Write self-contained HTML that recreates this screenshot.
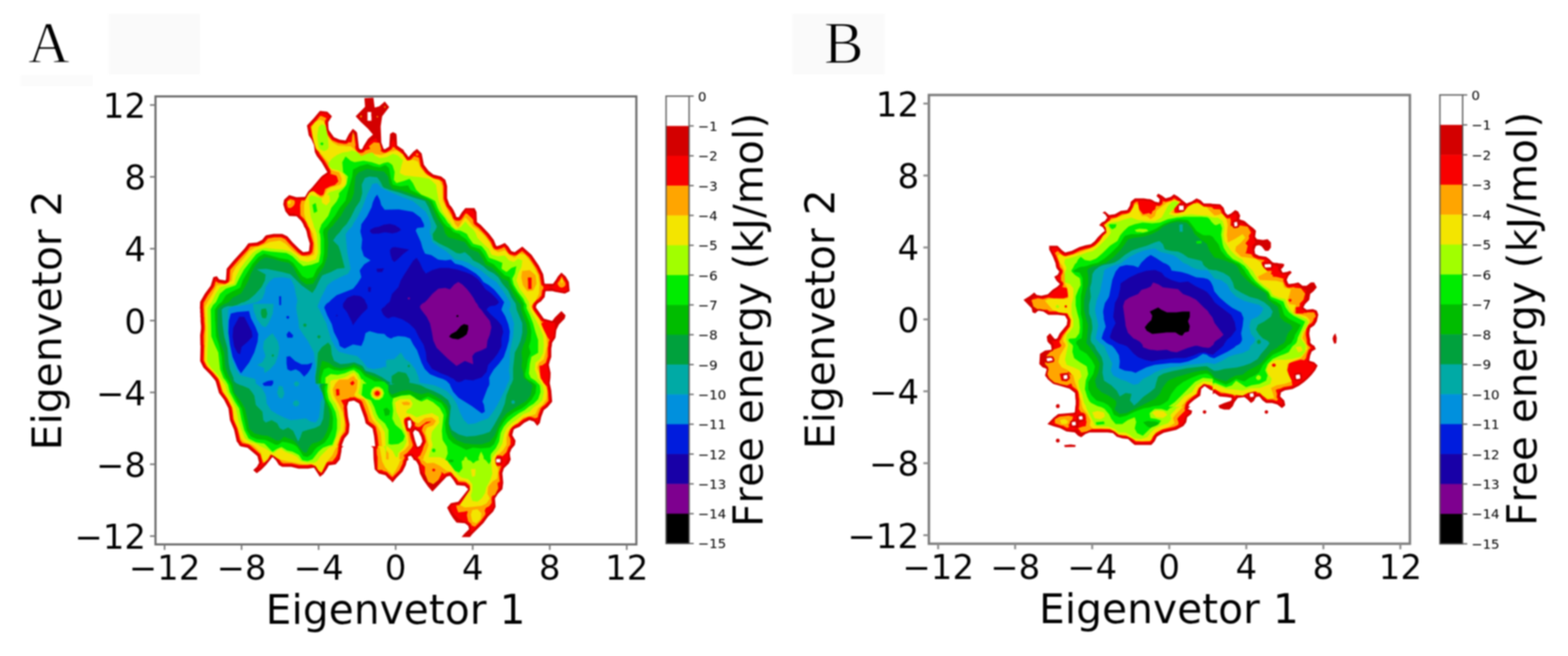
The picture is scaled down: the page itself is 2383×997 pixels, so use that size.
<!DOCTYPE html>
<html lang="en">
<head>
<meta charset="utf-8">
<title>Free energy landscape</title>
<style>
html,body{margin:0;padding:0;background:#fff;}
body{width:2383px;height:997px;overflow:hidden;}
svg{display:block;}
svg text{font-family:"DejaVu Sans","Liberation Sans",sans-serif;fill:#000;font-kerning:none;}
svg text.serif{font-family:"Liberation Serif","DejaVu Serif",serif;}
</style>
</head>
<body>
<svg width="2383" height="997" viewBox="0 0 2383 997">
<defs><filter id="soft" x="-1%" y="-1%" width="102%" height="102%" color-interpolation-filters="sRGB"><feGaussianBlur stdDeviation="1.0"/></filter></defs>
<rect width="2383" height="997" fill="#fff"/>
<g filter="url(#soft)">
<rect x="165.5" y="21" width="138.8" height="92.3" fill="#fafafa"/>
<rect x="31.5" y="113.7" width="109.5" height="17" fill="#fbfbfb"/>
<rect x="1204.5" y="21" width="140" height="92.3" fill="#fafafa"/>
<text class="serif" x="42.6" y="93.8" font-size="88" stroke="#fff" stroke-width="1.4" stroke-linejoin="round">A</text>
<text class="serif" x="1252.3" y="96.0" font-size="90" stroke="#fff" stroke-width="1.4" stroke-linejoin="round">B</text>
<g>
<rect x="236.3" y="146.5" width="730.8" height="680.9" fill="#fff"/>
<path fill="#d30000" fill-rule="evenodd" d="M486.2,168.5L476.8,179.8L466.5,190.8L469.2,205.8L473.2,211.5L477.2,220.8L478.5,231.2L481.5,237.2L488.8,246.8L497.5,261.8L490.2,266.8L487.5,269.2L474.5,284.8L468.2,291.2L463.5,299.2L450.5,299.8L439.5,296.5L431.8,303.5L430.5,310.5L433.8,321.2L439.5,328.2L450.8,328.8L457.5,335.5L460.5,340.2L462.5,345.2L463.8,346.8L465.8,351.5L467.5,359.5L470.8,370.2L469.5,381.5L468.2,382.2L460.8,383.2L455.2,378.8L444.5,368.2L436.8,359.2L429.5,355.8L428.2,355.5L415.8,355.5L404.8,357.5L403.2,358.5L398.5,364.5L390.5,368.5L377.5,369.8L371.8,377.5L354.5,396.5L344.5,408.5L343.5,423.8L342.8,426.2L333.2,424.8L329.5,419.8L324.2,421.2L320.2,434.2L311.2,446.5L304.2,458.8L303.8,469.2L304.2,469.5L304.2,475.8L304.5,476.2L304.5,482.2L304.8,482.5L304.8,488.5L305.5,495.2L305.5,499.5L304.2,509.5L304.5,524.8L304.8,525.2L304.2,548.8L309.2,558.8L318.8,568.5L326.2,577.2L327.8,579.8L332.8,597.2L340.5,607.5L347.2,620.8L349.5,638.8L355.8,653.2L359.8,671.2L361.2,672.5L364.2,677.5L366.2,678.5L376.2,680.5L391.2,693.2L393.8,703.2L390.5,709.2L384.8,714.5L390.2,719.2L396.8,714.2L404.5,706.5L414.2,694.5L419.5,699.8L423.8,706.8L428.8,709.5L442.5,709.5L453.8,712.2L468.2,712.2L477.2,710.8L486.2,724.8L491.5,720.5L496.5,713.2L499.8,707.2L510.2,705.8L516.5,698.2L518.8,686.2L519.2,680.8L521.8,678.5L522.8,678.2L519.8,678.2L519.5,677.8L519.8,675.8L523.5,666.2L529.2,659.5L530.2,656.8L531.2,645.2L528.8,632.8L527.5,617.8L529.5,611.2L530.2,610.2L537.8,608.8L545.8,613.2L553.8,635.2L555.8,643.5L566.2,651.2L568.5,662.8L570.2,677.8L569.8,678.2L563.8,678.2L567.2,680.8L567.8,697.5L569.5,713.5L575.8,719.8L585.8,722.2L589.5,726.5L594.2,730.5L596.5,733.5L602.2,726.5L611.8,716.8L616.8,706.8L618.2,700.8L620.8,698.5L621.8,698.2L620.2,697.8L620.2,693.8L624.5,692.5L628.5,697.8L627.5,698.2L632.2,700.5L634.5,704.2L636.2,707.8L638.2,719.5L643.2,729.2L650.5,739.5L657.2,747.2L678.8,724.5L683.5,723.2L684.5,723.8L689.2,729.8L693.8,737.2L706.5,738.5L711.5,743.5L696.5,762.5L685.2,764.8L679.5,771.5L684.2,780.8L688.5,787.5L693.8,794.2L706.5,795.2L710.8,798.5L711.8,799.8L712.8,804.2L705.2,811.8L701.5,816.2L714.2,816.2L717.8,811.8L734.8,794.8L741.5,785.5L749.5,777.5L753.2,770.2L752.2,757.5L756.8,750.2L763.5,743.5L764.8,733.5L763.5,719.2L765.8,711.8L773.5,704.2L776.2,698.2L775.2,693.2L774.8,688.5L777.2,682.5L782.5,676.2L783.5,669.8L778.5,661.2L780.8,652.8L783.2,651.2L789.8,648.5L796.5,642.8L804.8,638.5L811.5,640.8L816.5,647.2L820.5,642.8L822.5,633.8L826.5,623.2L832.2,618.8L839.2,610.5L837.8,593.5L835.5,582.2L836.5,574.2L836.8,566.8L834.2,554.5L835.2,550.2L837.8,542.5L837.8,529.8L838.8,524.5L838.8,522.2L839.5,520.2L844.2,513.2L845.5,501.5L849.5,493.2L858.2,484.2L859.5,479.2L853.2,472.8L843.5,482.2L839.2,487.8L826.5,484.2L814.8,467.8L814.5,466.2L815.8,462.8L819.2,459.8L821.8,458.5L827.8,451.5L828.8,443.8L829.5,442.5L839.8,442.5L843.2,443.5L858.5,446.2L865.8,442.5L864.5,428.5L859.8,420.2L853.2,414.2L847.8,420.2L845.2,424.8L840.5,431.2L828.2,431.2L827.5,430.2L825.5,416.8L818.8,403.5L807.8,387.2L793.8,374.8L782.2,383.2L777.2,381.8L772.5,374.5L767.2,369.2L759.8,372.8L754.8,374.2L753.5,372.2L750.5,364.8L743.5,355.5L730.5,341.8L724.8,337.5L724.2,322.2L721.2,316.2L707.2,316.2L701.8,322.8L697.2,330.2L693.8,329.8L693.2,329.2L692.5,326.2L689.2,319.2L686.2,314.5L683.2,311.2L679.5,301.2L679.5,282.8L676.8,273.2L670.5,268.2L658.5,265.2L651.2,259.5L644.2,250.2L640.8,233.2L633.8,226.2L628.2,230.5L620.8,238.8L618.5,235.2L614.5,230.5L613.2,227.8L603.5,221.2L602.8,206.5L602.2,203.2L597.2,200.8L592.8,203.5L591.5,222.8L585.5,226.5L583.8,226.8L582.8,225.8L579.5,216.5L578.5,192.2L580.8,176.8L591.5,162.8L584.8,154.2L576.5,161.5L569.8,163.5L569.2,162.2L567.5,148.5L553.8,149.2L554.8,162.2L540.5,176.8L548.5,185.5L559.2,195.5L566.8,204.5L559.2,211.2L552.8,221.5L550.5,226.2L548.8,227.2L546.8,226.5L545.5,224.8L542.8,202.2L541.8,200.2L536.2,195.8L530.2,203.8L525.2,213.5L516.2,212.2L507.5,208.5L499.8,197.8L499.2,194.2L498.8,185.8L504.5,176.8L497.5,169.8ZM754.2,697.8L754.5,697.5L760.2,697.5L760.5,697.8L760.5,702.5L760.2,702.8L754.5,702.8L754.2,702.5ZM630.8,653.2L636.2,656.2L640.2,664.2L641.8,670.8L638.8,677.2L634.8,679.2L633.8,678.2L630.8,669.5L627.8,657.8L628.2,656.5ZM623.8,638.5L624.5,639.8L625.5,646.2L623.2,651.5L620.2,649.8L619.5,639.5ZM558.8,170.2L563.8,170.2L564.2,170.5L564.2,176.8L564.5,177.2L564.5,183.2L564.2,183.5L558.8,183.5L558.5,183.2L558.5,170.5Z"/>
<path fill="#f90000" fill-rule="evenodd" d="M573.2,176.2L572.2,177.2L572.2,177.8L573.2,178.5L574.2,178.5L574.8,177.5L573.8,176.2ZM548.2,175.5L547.2,177.5L548.2,178.5L549.2,178.5L550.2,176.8L549.2,175.5ZM487.5,171.5L479.2,181.5L469.5,191.8L471.2,200.2L471.5,203.8L476.2,211.2L477.2,216.5L480.8,226.8L481.2,230.2L483.8,235.5L491.2,245.2L500.2,260.8L500.2,262.8L498.8,264.5L489.8,270.8L476.8,286.5L470.5,292.8L465.2,301.5L461.2,302.2L449.5,302.5L440.2,299.8L434.5,304.8L433.5,309.5L433.5,311.5L436.2,319.5L439.2,323.2L441.2,324.5L443.8,324.8L446.8,324.5L449.5,326.2L452.5,326.5L459.8,333.8L462.8,338.5L465.2,344.2L466.2,345.2L468.5,350.5L470.2,358.5L473.5,369.2L473.5,372.8L472.2,382.5L470.8,384.2L469.2,384.8L462.8,385.8L459.2,385.5L453.5,381.2L442.2,369.8L435.2,361.5L428.5,358.5L416.8,358.2L405.8,360.2L400.2,366.8L391.5,371.2L380.2,372.2L378.2,373.5L374.2,379.2L361.8,392.5L347.5,409.2L346.8,411.8L345.8,426.8L344.5,428.5L341.2,428.8L332.2,427.5L330.5,426.2L328.5,423.2L326.5,423.5L323.5,433.8L322.5,435.8L313.5,448.2L306.8,459.8L306.5,468.2L306.8,468.5L306.8,474.8L307.2,475.2L307.2,481.2L307.5,481.5L307.5,487.5L308.2,494.2L308.2,500.5L306.8,510.5L307.2,523.8L307.5,524.2L307.5,535.2L307.2,535.5L306.8,547.8L311.5,557.2L321.2,566.8L328.5,575.5L330.2,578.2L335.5,596.2L342.8,605.8L349.8,619.8L352.2,637.8L358.5,652.2L362.5,669.8L366.5,675.5L377.8,678.2L393.5,691.5L396.5,701.8L396.5,704.2L393.5,709.2L393.2,711.8L395.8,711.2L402.2,704.8L410.8,693.8L412.5,692.2L414.2,691.8L417.2,693.5L421.8,698.2L426.5,705.2L429.8,706.8L443.5,706.8L454.8,709.5L467.2,709.5L475.2,708.2L478.2,708.2L479.8,709.5L486.2,719.8L487.2,720.5L489.2,718.8L494.2,711.5L497.2,705.8L498.2,704.8L500.2,704.2L508.5,703.2L513.5,697.5L514.2,696.2L516.5,682.8L517.2,674.8L521.2,664.5L526.8,657.8L527.5,655.8L527.5,652.8L528.5,646.2L526.2,633.8L524.8,620.8L524.8,616.8L527.5,608.5L530.2,607.2L536.2,606.2L538.8,606.2L546.8,610.2L548.2,611.5L555.5,631.2L558.2,641.5L567.2,648.2L568.8,650.2L571.2,661.8L572.8,676.8L572.5,679.5L571.5,680.5L569.8,680.8L570.5,696.5L570.8,696.8L570.8,701.2L571.8,707.8L571.8,710.8L572.2,712.2L577.2,717.2L587.5,719.8L596.5,729.2L599.8,724.8L609.5,715.2L614.2,705.8L615.2,700.5L617.5,697.5L617.8,692.2L618.8,691.2L623.2,689.8L625.5,689.8L627.2,690.5L628.2,691.5L628.5,693.2L630.5,695.5L630.8,696.5L633.8,698.2L635.2,699.5L638.5,705.8L639.8,713.5L641.5,717.5L647.8,724.5L650.8,732.2L658.5,735.8L666.2,729.5L672.5,726.8L677.2,722.2L682.5,720.5L684.8,720.5L686.8,722.2L690.5,726.8L695.5,734.5L707.5,735.8L713.8,741.8L714.2,742.5L713.8,745.2L698.2,764.8L696.5,765.5L686.5,767.5L684.2,771.5L687.8,778.8L690.5,782.2L697.5,789.2L699.8,789.8L704.5,792.2L708.2,792.8L713.8,797.5L715.5,802.8L715.5,805.2L713.8,809.5L718.8,806.8L732.5,793.2L739.2,783.8L747.2,775.5L750.5,769.2L749.8,764.8L749.5,756.5L754.5,748.8L755.2,746.8L759.8,742.2L761.5,738.2L762.2,731.8L760.8,721.8L760.8,718.2L763.5,710.2L767.8,705.8L769.5,701.8L772.5,696.5L772.5,691.5L772.2,691.2L772.5,686.5L774.8,680.8L779.2,675.8L780.2,673.8L780.5,670.2L775.8,662.2L775.8,659.8L778.5,651.2L780.2,649.5L788.2,646.2L795.8,639.8L803.8,635.8L806.5,635.8L813.2,638.5L816.8,642.5L817.8,641.5L819.8,632.8L824.2,621.5L830.5,616.5L836.2,609.8L835.2,594.5L832.8,583.2L832.8,579.2L833.5,576.8L834.2,567.8L831.5,555.5L831.5,552.5L835.2,541.5L835.2,528.8L836.2,523.5L836.2,521.2L837.2,518.5L841.5,512.2L842.8,500.5L843.8,498.8L843.5,496.2L843.8,491.5L843.2,491.2L843.2,490.5L841.2,490.2L837.8,490.5L824.8,486.5L812.8,470.2L812.2,468.8L811.8,465.2L813.5,461.2L817.5,457.5L820.2,456.2L825.2,450.2L826.2,442.8L826.8,441.2L827.8,440.2L832.5,439.8L836.8,437.8L838.2,437.8L845.8,441.2L858.2,443.2L861.5,441.5L862.8,440.2L861.8,429.5L857.5,421.8L853.5,418.2L850.2,421.8L846.2,428.5L842.2,433.5L837.2,435.8L832.5,433.8L826.5,433.5L824.8,431.2L822.8,417.8L817.5,406.8L805.5,388.8L793.8,378.5L790.8,380.2L784.2,385.5L781.2,385.8L775.5,384.2L770.2,376.2L766.5,372.5L759.8,375.8L755.8,376.8L753.2,376.5L751.8,375.2L748.2,366.5L741.2,357.2L728.8,344.2L722.5,339.2L721.8,334.5L721.8,327.5L721.2,326.2L720.8,323.5L718.2,319.8L713.2,318.8L708.8,318.8L704.2,324.5L698.8,332.5L693.5,332.8L692.2,332.2L690.5,330.2L689.8,327.2L686.8,320.8L683.8,316.2L680.8,312.8L676.8,302.2L676.8,283.8L674.5,274.8L668.5,270.5L659.2,268.5L656.8,267.5L648.8,261.2L641.5,251.2L638.5,235.2L633.8,230.5L632.5,230.8L629.8,232.8L622.5,241.2L621.8,241.5L619.2,241.2L612.2,232.2L611.5,230.5L601.2,222.8L600.5,216.8L597.8,211.2L596.8,212.2L595.8,215.2L594.5,217.2L594.5,221.2L593.8,224.5L592.8,225.5L586.5,229.2L582.8,229.5L580.5,227.5L578.8,222.5L578.2,221.8L576.8,217.2L574.5,216.5L571.8,209.8L563.2,214.2L556.2,221.5L553.8,226.2L551.8,228.8L549.8,229.8L547.2,229.8L545.2,228.8L542.8,225.8L541.5,213.5L538.5,205.5L536.2,200.8L535.8,204.5L530.5,209.5L527.8,214.8L526.2,216.2L523.2,216.2L515.2,214.8L505.8,210.8L496.8,198.2L496.2,184.8L500.8,177.2L496.2,172.5ZM753.8,694.8L761.2,694.8L762.8,696.2L763.5,700.8L763.2,703.5L761.8,705.2L761.2,705.5L753.8,705.5L753.5,705.2L752.5,700.5L752.5,697.5ZM629.8,650.5L631.8,650.5L637.2,653.2L638.5,654.5L642.8,663.2L644.5,669.8L644.5,672.2L641.2,678.8L639.8,680.2L634.2,682.5L631.8,680.5L627.2,667.2L625.2,658.8L625.2,656.2L627.8,652.2ZM618.8,636.5L624.2,635.8L627.2,639.2L628.2,644.2L628.2,647.2L625.8,652.8L624.2,654.2L622.2,654.2L618.8,652.5L617.5,650.8L616.8,638.5ZM583.8,161.8L583.8,163.5L585.5,163.8L586.2,162.8L585.5,161.5Z"/>
<path fill="#ffa500" fill-rule="evenodd" d="M853.8,419.8L851.5,424.8L847.5,430.5L847.5,431.8L849.2,434.8L851.2,436.5L853.8,437.2L857.5,435.8L859.5,433.2L859.2,429.8L855.8,424.5ZM447.5,304.5L440.8,302.5L436.8,306.2L436.2,311.5L437.8,315.8L440.2,316.2L442.8,315.5L446.2,312.8L447.5,310.5L448.2,307.8ZM632.5,233.8L632.2,234.5L632.5,236.2L633.2,236.5L635.5,236.2L635.8,234.5L635.2,233.5L633.5,233.2ZM573.2,176.2L572.2,177.2L572.2,177.8L573.2,178.5L574.2,178.5L574.8,177.5L573.8,176.2ZM486.5,176.2L481.5,182.5L472.2,192.5L474.2,203.8L474.8,204.5L474.8,206.5L477.2,216.5L480.5,226.5L484.5,230.5L486.2,234.5L493.5,244.2L501.2,257.2L502.8,261.2L502.2,264.2L510.8,266.8L512.2,268.8L514.2,275.8L508.8,281.2L501.8,283.2L494.2,287.2L492.2,294.2L491.2,296.2L487.5,297.5L481.5,294.2L476.5,290.2L475.5,291.2L474.5,290.8L470.5,292.8L467.2,297.8L463.8,304.5L457.8,304.8L456.2,311.5L456.5,326.2L456.8,327.5L462.2,332.8L465.2,337.5L467.5,343.2L469.5,346.2L471.2,350.5L472.5,357.5L476.2,369.5L475.5,378.2L474.5,383.5L471.8,386.5L470.2,387.2L462.5,388.5L458.8,388.2L452.5,383.5L439.8,370.8L433.5,363.5L427.5,360.8L416.5,360.8L407.2,362.5L401.2,369.2L392.5,373.5L380.5,374.8L376.5,380.2L364.2,393.5L349.8,410.2L348.8,424.5L347.8,428.5L346.5,429.8L343.2,431.5L341.5,431.5L331.2,429.8L328.8,427.8L327.8,427.8L325.8,434.8L324.8,436.8L315.8,449.2L309.5,460.2L309.2,468.5L309.5,468.8L309.5,475.2L309.8,475.5L309.8,481.5L310.2,481.8L310.2,487.8L310.8,494.5L310.8,500.2L309.5,510.2L309.8,524.2L310.2,524.5L309.5,547.5L313.8,556.2L323.5,565.8L330.8,574.5L332.5,577.2L337.8,595.2L345.5,605.5L352.2,618.8L353.5,626.5L354.5,636.5L360.8,651.2L364.8,668.8L368.2,673.5L377.2,675.2L379.8,676.5L395.8,690.5L399.2,702.2L398.8,704.8L400.8,702.5L401.5,703.2L407.5,698.2L411.5,690.5L416.2,692.8L424.5,698.2L427.2,702.2L430.2,704.2L443.2,704.2L454.5,706.8L467.5,706.8L472.8,705.8L474.8,706.2L479.8,708.2L484.5,715.5L488.5,718.5L495.8,703.8L497.8,702.2L500.5,701.5L505.2,701.2L510.5,694.5L512.8,689.2L513.8,683.2L513.8,680.2L514.5,678.2L514.2,676.5L516.5,669.2L518.8,663.5L524.8,656.2L525.8,645.8L523.2,630.8L522.8,624.2L522.2,620.5L522.5,616.2L518.2,608.2L529.2,605.8L533.2,603.5L533.5,604.2L538.5,603.5L547.8,607.8L550.5,610.5L557.8,630.2L560.5,640.2L568.2,645.8L570.8,648.5L571.5,650.2L573.8,662.2L575.5,677.2L575.2,678.2L573.5,678.2L574.2,678.5L573.8,681.5L572.5,682.8L572.8,690.5L573.8,694.8L573.8,713.8L574.2,714.2L580.8,714.2L582.2,715.8L587.8,717.2L593.8,723.2L596.5,725.2L607.2,714.2L611.8,704.8L612.8,699.5L614.8,696.8L614.8,693.5L613.5,692.8L613.2,692.2L618.8,688.5L625.5,680.8L627.2,677.8L627.5,675.8L624.2,665.8L622.5,658.5L622.5,656.8L617.8,654.8L616.8,652.8L614.2,642.5L614.2,638.8L614.8,636.8L617.8,634.2L622.5,633.5L627.8,640.2L630.2,641.5L630.8,644.5L630.5,647.5L635.5,649.2L638.5,648.5L648.2,641.2L654.5,640.5L654.8,640.8L654.2,641.5L645.5,645.2L643.2,647.8L641.2,653.2L641.2,654.5L645.2,662.2L647.2,670.2L647.2,671.8L643.8,678.8L642.2,684.2L638.5,692.5L636.5,693.5L634.8,695.8L637.5,698.5L640.8,705.5L641.5,705.5L645.8,709.5L645.8,719.8L650.8,732.2L658.5,735.8L666.2,729.5L671.2,719.5L670.5,717.5L670.8,717.2L675.5,720.5L677.5,719.2L682.8,717.8L684.5,717.8L687.2,719.2L689.5,722.5L693.8,727.2L696.8,732.2L705.5,732.8L708.5,733.5L714.2,738.8L714.2,744.8L703.2,761.5L698.5,767.5L693.2,768.5L693.2,769.2L694.2,770.8L693.8,771.5L696.5,778.8L705.2,777.8L709.5,776.8L710.8,777.2L709.5,783.2L711.5,792.2L716.2,796.5L716.8,798.8L721.8,800.5L730.2,792.2L737.5,782.2L737.8,780.2L737.2,777.5L736.5,776.8L737.8,773.2L738.8,771.8L742.8,769.8L744.5,768.2L747.2,764.2L747.2,760.5L746.8,760.2L747.2,755.5L748.8,753.2L752.2,752.2L757.2,742.2L756.2,734.2L759.5,731.8L758.2,718.5L761.5,708.2L761.2,707.8L760.8,708.2L755.2,708.2L754.5,707.5L753.2,704.5L752.5,697.5L755.2,692.2L760.8,692.2L763.5,693.5L769.8,687.2L772.5,679.8L775.8,675.8L775.8,667.2L773.2,661.8L773.2,660.2L775.5,652.2L777.8,649.2L780.2,647.2L782.8,645.5L787.2,643.8L794.8,637.5L802.8,633.5L806.2,633.2L813.2,635.8L816.5,634.8L817.2,634.2L818.2,629.8L821.8,620.5L824.5,617.8L827.8,615.5L833.5,609.2L832.8,597.2L831.2,586.8L829.2,586.2L829.2,585.5L825.8,581.8L822.2,575.5L820.8,569.5L819.8,556.2L821.8,555.5L823.8,555.5L829.5,551.2L832.5,541.5L832.5,529.2L833.5,523.8L833.5,521.5L834.2,518.8L835.5,516.8L832.2,512.8L826.2,500.8L822.5,492.2L823.2,491.2L826.2,489.5L823.8,488.8L821.5,486.5L810.5,471.2L809.2,466.8L809.5,464.2L810.8,460.8L814.8,456.5L816.5,455.2L817.8,454.8L822.8,449.2L823.8,441.8L824.5,440.2L825.8,438.8L825.8,435.8L823.2,433.5L822.5,432.2L820.2,418.2L815.2,407.8L804.2,391.2L793.5,381.5L785.2,387.8L781.5,388.5L774.5,386.5L772.2,384.2L767.8,377.2L766.2,375.5L761.8,377.8L755.5,379.5L752.2,378.8L749.5,376.2L745.8,367.5L738.8,358.2L727.8,346.5L722.8,342.8L720.2,340.2L719.5,338.2L719.2,334.5L717.2,331.8L709.8,324.8L707.5,324.5L702.2,332.5L699.8,334.8L697.8,335.5L693.8,335.5L691.2,334.5L688.5,331.8L686.8,326.5L683.5,320.2L678.5,313.8L674.2,301.8L674.2,283.5L672.2,276.2L667.5,272.8L659.5,271.2L655.2,269.2L649.5,265.2L646.5,262.2L639.2,252.2L636.8,239.8L629.5,237.2L623.5,243.5L618.8,243.8L612.8,235.8L612.5,234.5L610.2,233.2L608.2,230.8L601.2,226.2L598.8,223.5L596.5,223.8L596.2,225.5L593.8,227.8L587.5,231.5L584.8,232.2L581.8,231.8L579.2,229.5L577.8,229.2L579.5,227.5L576.8,217.2L568.2,216.2L560.8,222.2L562.5,226.2L562.2,226.5L555.2,228.5L552.8,231.2L549.5,232.5L546.2,232.2L544.2,231.2L541.5,228.5L540.5,226.8L539.8,223.8L539.8,221.8L540.5,221.2L539.2,212.2L538.5,205.5L536.2,200.8L534.5,214.8L533.8,216.5L529.8,216.2L527.2,218.5L523.5,218.8L514.2,217.2L504.8,213.2L502.5,210.8L497.5,203.8L495.5,195.2L495.2,191.8L493.5,187.5L493.8,183.8L496.2,179.8L489.2,176.5ZM657.8,712.5L659.8,712.2L661.2,713.2L661.5,714.8L660.5,716.2L658.5,716.5L657.2,715.5L656.8,713.8ZM572.2,594.2L574.5,594.2L576.5,595.8L577.2,597.5L576.5,600.2L574.5,601.5L572.2,601.5L570.8,600.8L569.8,599.5L569.5,598.2L569.8,596.5ZM510.8,591.2L515.2,591.2L515.5,591.5L515.8,598.2L516.2,598.5L515.8,600.8L512.5,601.5L511.2,601.2L510.8,594.2L510.5,593.8ZM536.5,578.5L539.2,582.8L537.8,583.2L536.8,585.2L534.5,585.5L533.2,584.5L532.8,583.2L532.2,582.8L532.5,581.5ZM802.5,421.8L807.5,421.8L807.8,422.2L807.8,438.8L807.5,439.2L803.2,439.2L802.8,438.8L802.5,426.5L802.2,426.2L802.2,422.2ZM548.2,175.5L547.2,177.5L548.2,178.5L549.2,178.5L550.2,176.8L549.2,175.5ZM583.8,161.8L583.8,163.5L585.5,163.8L586.2,162.8L585.5,161.5Z"/>
<path fill="#f3e500" fill-rule="evenodd" d="M725.5,773.8L717.8,775.2L715.5,782.2L717.8,792.8L723.8,795.2L730.5,788.8L731.8,780.2ZM853.8,422.2L852.2,426.8L853.8,431.2L855.5,427.5ZM438.5,304.8L437.2,305.8L436.5,307.8L437.2,309.2L438.5,310.2L440.2,310.2L441.5,309.2L442.2,307.2L440.8,305.2ZM486.2,181.8L478.8,185.5L473.5,193.2L474.8,206.5L477.2,216.5L480.2,225.8L491.2,237.5L491.8,238.8L499.5,247.8L500.2,254.2L502.2,256.5L505.2,259.2L514.8,261.8L515.8,262.8L519.5,272.2L518.2,278.8L517.2,280.2L510.5,282.8L504.5,284.2L497.8,287.5L491.5,299.2L487.5,300.2L483.8,297.8L479.2,292.5L474.5,290.8L470.5,292.8L467.2,297.8L464.2,303.5L462.2,311.5L462.2,324.5L464.5,333.8L468.8,341.5L469.5,344.8L471.5,347.5L471.5,348.2L475.5,355.2L478.5,373.2L477.2,386.5L475.8,387.5L467.5,390.8L454.5,388.2L445.2,381.2L433.8,370.2L425.5,365.5L409.8,367.8L399.2,372.8L386.8,376.5L378.8,381.5L369.2,393.8L358.2,406.2L353.5,415.5L352.2,426.8L341.2,432.5L329.5,433.5L322.5,447.5L312.2,464.5L311.2,470.2L311.5,470.5L312.5,494.8L312.8,495.2L312.8,502.8L312.5,503.2L312.2,520.5L311.8,520.8L311.8,527.2L311.5,527.5L311.2,548.8L315.5,557.5L325.5,567.8L331.8,575.2L334.5,580.8L339.2,595.8L346.8,607.5L353.5,620.8L355.8,638.8L362.2,653.2L366.2,666.2L369.2,670.2L372.2,672.5L381.8,675.2L382.8,676.2L384.5,676.8L388.5,680.2L396.5,688.2L398.5,697.2L401.5,703.2L411.5,690.5L416.2,692.8L423.5,697.8L429.2,699.5L450.5,703.5L460.2,705.8L473.8,705.8L479.8,708.2L484.5,715.5L488.5,718.5L497.2,701.2L505.2,691.8L510.5,680.8L514.5,678.2L512.2,678.2L511.8,677.8L512.2,675.8L516.5,664.8L522.5,653.5L523.5,640.2L521.2,627.8L515.2,614.8L510.8,607.8L507.2,600.5L505.8,591.2L509.8,582.8L515.5,576.8L528.8,576.8L532.8,573.5L537.8,571.2L540.8,576.5L543.2,577.2L543.2,582.8L542.2,591.8L538.2,600.5L543.5,604.2L552.5,606.2L553.5,606.8L558.8,617.5L562.2,628.5L565.5,637.2L567.2,639.8L572.8,646.2L578.5,657.2L580.5,677.8L580.2,678.2L573.5,678.2L577.2,680.8L580.8,701.2L585.5,710.5L589.2,714.5L589.2,715.2L593.2,718.2L595.5,721.2L596.5,721.8L601.8,714.2L606.8,704.2L607.5,700.8L611.5,698.2L607.2,698.2L606.8,697.8L607.5,688.8L615.2,683.8L621.5,676.2L620.2,663.2L613.8,642.5L613.8,635.8L621.8,632.8L628.2,640.5L635.8,643.2L645.8,635.5L656.2,634.2L662.5,639.5L658.5,646.2L649.2,649.8L647.8,652.2L646.2,657.5L648.5,664.5L651.2,676.5L647.5,686.8L643.8,694.8L643.8,697.5L643.2,698.2L640.2,698.2L644.8,700.5L648.5,704.2L658.8,703.2L668.2,707.8L678.2,715.2L685.2,716.8L689.5,722.5L696.5,729.5L706.5,730.8L714.2,735.8L714.2,744.8L698.8,767.5L706.2,771.2L716.8,770.5L731.8,768.8L739.2,765.2L744.5,757.5L740.8,750.2L741.8,739.8L748.5,731.8L755.8,727.2L757.2,712.8L753.2,704.5L752.5,697.5L754.8,692.5L756.8,690.5L759.5,689.2L765.2,683.5L769.8,676.2L769.8,665.5L772.2,656.2L778.8,648.2L787.2,642.5L795.2,634.5L805.5,632.2L813.8,629.5L817.8,620.8L824.5,615.2L830.5,606.8L831.8,593.8L829.2,585.5L825.8,581.8L824.2,578.5L820.8,574.2L820.2,568.5L816.5,558.5L819.2,551.2L826.2,546.5L826.8,545.5L831.8,524.2L830.5,510.5L824.2,497.2L819.8,484.8L814.2,477.2L807.5,466.5L807.5,465.2L808.5,463.2L813.8,457.5L819.2,446.5L820.2,432.5L817.8,418.5L811.2,405.2L806.2,397.2L797.5,386.8L789.8,385.5L782.2,391.8L774.8,388.2L767.2,380.5L757.2,383.2L749.8,379.5L744.5,369.2L737.5,359.8L731.5,353.5L727.8,350.8L726.2,348.8L722.5,346.2L719.2,344.5L712.5,335.5L707.2,330.2L701.2,338.2L697.5,344.2L695.8,345.2L695.2,344.8L691.5,340.2L686.2,329.5L681.5,322.8L677.8,314.2L672.8,305.5L671.8,282.8L668.2,274.5L659.2,271.2L646.8,264.5L639.2,255.5L635.2,245.5L627.8,242.8L618.8,244.2L612.8,235.8L612.2,234.2L602.5,228.5L590.5,231.5L579.8,235.5L570.5,234.5L564.2,231.8L557.8,233.8L548.8,237.5L538.2,226.5L532.8,222.2L524.5,222.2L524.2,221.8L513.8,221.2L505.5,216.5L498.5,207.8L496.2,198.5L494.8,190.5L492.5,184.5ZM587.2,684.2L590.5,688.8L590.8,697.8L590.5,698.2L587.2,698.2L586.8,697.8L586.8,684.5ZM623.5,612.8L621.8,615.8L613.2,615.8L610.2,611.8L611.5,611.2L618.5,610.2L623.2,612.2ZM571.5,592.2L575.2,592.2L577.2,593.5L578.5,595.2L579.2,597.5L578.5,600.5L575.2,603.8L571.5,603.8L568.2,601.2L567.2,597.5L568.2,594.5ZM805.2,410.5L814.2,418.5L815.5,431.2L810.2,441.5L801.5,442.8L794.8,433.5L792.2,421.8L793.2,413.5L793.8,411.8Z"/>
<path fill="#a1ff00" fill-rule="evenodd" d="M520.8,231.8L512.2,235.5L504.8,240.8L500.2,246.2L499.5,249.2L499.8,252.5L503.5,255.8L505.2,256.8L513.2,258.8L519.2,261.8L524.5,267.2L526.2,276.2L523.8,282.5L516.5,287.2L502.5,291.5L500.2,292.5L496.8,296.5L497.5,296.2L500.5,296.5L501.5,306.2L496.2,312.2L489.5,308.5L488.5,300.8L485.5,300.8L478.5,298.2L472.5,296.8L469.2,300.8L470.2,305.5L470.5,313.2L472.2,328.5L476.5,341.5L477.2,345.2L479.8,350.2L479.8,351.5L481.2,354.8L482.2,362.8L483.5,383.5L480.2,393.8L479.2,394.8L467.5,398.2L456.8,395.8L449.2,387.8L441.2,382.2L429.8,379.2L418.8,378.5L403.2,376.8L391.2,379.2L384.2,384.2L373.2,397.2L364.5,408.8L358.5,420.8L356.2,430.5L354.8,431.5L334.5,436.2L327.8,446.5L321.8,459.2L318.2,463.5L315.5,468.8L315.8,469.2L315.5,469.8L315.5,479.2L315.8,479.5L315.8,491.8L316.2,492.2L316.2,520.5L315.8,520.8L315.8,527.2L315.5,527.5L314.8,548.5L320.2,558.5L329.2,567.5L333.5,572.5L342.2,585.2L345.5,595.8L358.5,620.8L362.2,638.8L367.2,653.8L372.2,666.2L378.2,670.5L381.5,672.2L387.5,673.8L392.8,676.2L394.5,677.5L404.5,682.2L412.2,687.2L416.5,688.2L421.5,684.2L426.5,681.8L434.8,687.2L443.8,690.2L451.5,694.2L456.8,700.8L466.5,703.2L477.5,703.2L482.2,700.8L486.8,693.5L499.8,680.5L506.8,677.5L509.5,669.8L517.2,651.5L517.2,637.8L514.8,625.5L509.8,613.2L504.5,606.2L500.8,594.5L501.8,586.2L501.5,582.8L502.5,578.5L505.8,577.8L507.8,576.8L510.2,576.8L522.8,573.8L525.2,572.8L534.2,567.2L537.8,566.2L539.2,566.8L542.8,571.8L544.8,576.5L547.8,577.2L547.2,588.2L544.5,597.8L558.5,608.2L563.8,618.8L567.2,629.8L571.2,638.5L578.8,646.2L584.8,657.2L586.2,677.8L585.8,678.2L582.2,678.2L583.5,678.8L585.2,681.2L586.2,689.2L586.8,690.2L586.8,677.5L587.8,677.2L596.8,685.2L601.5,694.8L604.5,694.8L605.2,688.8L613.8,680.2L617.8,671.5L616.5,658.5L611.5,648.8L607.8,636.5L602.5,626.2L600.2,611.8L607.8,606.5L623.2,606.5L627.2,613.5L624.8,619.5L618.5,623.2L617.2,627.8L624.5,629.2L633.2,634.2L643.2,630.5L656.5,627.8L666.5,633.2L667.8,642.2L657.2,655.2L656.2,657.5L655.2,666.8L657.5,676.5L653.5,687.2L651.5,694.8L668.2,694.8L673.2,696.5L677.2,698.5L680.5,700.8L686.2,710.2L694.5,720.2L701.5,725.8L711.5,728.2L717.8,735.8L717.8,745.2L715.5,753.2L717.8,761.2L725.5,762.5L732.2,757.2L737.2,749.2L739.2,740.5L744.8,730.2L748.2,719.8L746.2,700.2L748.5,694.8L758.8,682.2L763.5,673.8L765.8,660.8L769.8,651.2L777.5,643.2L785.8,637.5L795.2,629.5L805.2,625.8L810.5,619.2L817.5,614.8L824.2,608.2L826.5,596.2L824.8,585.8L822.8,583.2L820.8,579.2L816.8,574.2L816.5,571.2L812.8,561.5L813.8,551.2L820.5,545.8L825.5,536.2L826.2,525.8L826.5,525.5L825.5,510.5L820.2,497.8L813.8,485.2L808.5,476.2L804.2,467.5L804.5,463.5L803.8,458.8L797.8,449.2L789.8,438.8L784.8,426.5L787.5,415.5L792.5,405.8L793.8,395.8L787.5,393.2L780.8,398.2L773.5,395.8L767.2,388.2L756.8,389.5L747.5,387.2L745.8,384.8L743.2,378.2L735.8,371.8L725.5,361.5L722.8,353.8L722.2,353.5L721.2,351.5L717.5,347.2L713.8,344.5L707.2,336.5L700.5,344.8L693.5,347.8L689.8,345.5L688.2,343.8L684.5,337.2L680.2,332.2L672.5,321.5L666.5,304.5L663.5,287.2L662.8,280.8L654.5,273.2L651.8,271.5L638.5,269.2L614.8,266.8L608.2,263.5L607.5,262.5L610.2,251.2L612.5,243.8L604.8,236.2L597.2,233.8L587.5,238.8L577.2,240.2L569.8,236.5L567.2,232.8L564.8,231.8L557.8,233.8L549.2,237.5L542.8,231.2L534.5,228.5L530.2,230.5ZM716.2,712.8L722.5,712.8L722.8,713.2L722.2,723.2L718.2,724.8L717.5,724.5L715.8,714.2ZM570.8,590.2L576.5,590.5L579.8,593.2L581.5,597.5L579.8,602.5L575.8,605.8L570.8,605.8L567.2,603.2L566.2,601.8L565.2,598.2L566.2,593.8L567.2,592.5ZM488.5,188.8L484.2,193.2L482.2,204.8L482.2,207.2L484.2,222.5L486.2,226.5L490.8,229.2L493.2,229.5L496.2,228.2L498.8,225.8L499.5,222.8L497.5,203.2L496.2,198.5L495.8,195.5L493.8,190.8Z"/>
<path fill="#00ec00" fill-rule="evenodd" d="M658.2,681.8L656.8,682.8L656.5,683.8L656.8,686.2L658.2,687.2L660.2,687.2L661.5,686.2L661.8,685.2L661.5,682.8L660.2,681.8ZM479.8,308.5L474.8,311.2L477.2,323.8L482.2,321.2ZM525.2,237.8L520.2,246.5L521.5,261.8L528.8,268.2L526.8,279.8L525.8,281.8L522.2,286.5L515.2,293.5L515.2,298.8L511.5,306.2L503.8,315.5L498.8,328.2L488.2,341.5L487.8,343.8L486.5,346.5L485.2,351.8L485.5,354.2L486.2,354.8L487.2,362.8L487.2,384.2L484.8,397.8L484.2,398.5L473.8,402.2L460.8,404.5L453.8,398.8L444.2,389.2L435.5,384.5L410.5,382.2L398.8,380.5L389.2,386.5L370.8,409.8L363.2,423.8L358.8,432.8L357.8,433.8L343.2,438.8L334.2,446.5L328.2,459.2L323.8,463.5L320.2,470.2L321.2,511.2L326.2,523.8L331.8,535.8L334.5,561.5L339.5,574.5L342.8,578.5L346.5,584.8L349.2,595.8L356.8,610.2L363.5,620.8L366.8,637.5L371.2,653.8L377.8,666.5L389.2,672.2L398.2,673.8L400.5,673.8L402.5,674.8L414.2,686.8L420.8,682.2L427.8,679.2L436.2,684.5L444.8,686.5L454.2,691.5L459.5,699.5L467.5,700.8L474.8,698.2L484.2,686.2L490.8,680.5L500.8,676.8L504.5,676.2L505.2,675.5L509.8,663.8L512.2,651.8L512.2,637.8L510.2,626.8L504.2,614.2L500.2,608.2L499.2,605.8L497.2,594.8L498.2,583.2L494.8,583.2L494.5,582.8L494.5,573.8L502.5,568.5L513.2,569.8L524.2,567.2L532.5,563.5L537.8,562.2L544.8,567.8L549.2,576.2L549.8,576.8L551.8,576.8L552.2,578.8L556.8,582.8L556.5,583.2L551.5,583.2L549.5,600.5L555.5,605.2L563.5,608.2L568.8,618.8L572.2,628.8L575.8,635.5L585.2,643.8L590.5,653.5L590.5,674.8L594.8,675.8L605.5,674.8L612.8,669.8L615.2,662.8L610.5,653.8L600.8,645.5L596.2,636.2L597.5,624.5L596.2,612.5L597.5,605.5L598.5,604.8L610.2,601.5L623.2,600.2L632.5,606.2L640.5,610.2L648.8,606.5L658.2,611.2L668.2,619.8L674.2,630.8L671.5,654.8L672.5,667.2L673.2,669.5L679.2,678.8L680.5,689.2L677.8,696.2L677.8,697.8L676.2,698.2L680.5,700.8L682.2,703.8L685.5,707.2L691.5,715.5L697.8,718.2L702.8,711.8L701.5,701.5L702.5,700.2L706.2,698.2L705.2,698.2L704.8,697.5L707.8,693.5L710.8,697.5L710.5,698.2L709.8,698.2L715.5,700.5L719.2,704.2L723.8,700.5L725.5,700.2L728.8,698.2L727.2,697.8L727.5,695.2L729.2,690.2L731.2,686.2L734.8,693.5L735.2,697.5L738.2,699.2L743.2,705.5L746.2,700.5L745.5,697.2L745.5,692.5L746.2,690.8L745.8,690.2L753.5,681.2L758.5,671.2L760.8,658.2L765.5,648.8L771.5,641.5L778.8,635.2L789.2,627.8L797.2,623.5L804.2,617.8L811.2,613.5L817.8,606.8L821.5,595.8L820.8,587.8L820.2,585.2L813.5,578.5L806.5,574.2L803.8,567.8L805.2,553.2L807.5,542.2L817.8,536.2L817.8,516.8L813.5,503.8L810.2,491.5L805.2,478.8L800.2,468.2L800.5,464.8L799.8,462.2L798.2,460.2L795.2,453.8L787.2,443.5L780.8,432.8L778.5,423.5L782.5,415.8L784.8,404.5L777.2,407.2L769.8,413.5L762.5,408.8L762.2,407.5L763.5,399.5L754.8,395.8L743.2,391.8L738.2,381.8L732.5,374.8L731.2,373.8L719.2,370.5L712.5,361.2L709.5,355.5L701.2,351.2L698.2,350.2L693.8,350.2L691.8,349.5L687.2,345.8L684.8,343.5L684.2,341.8L680.8,338.8L676.2,331.5L668.2,321.8L665.5,316.5L661.2,305.5L651.5,300.2L640.2,295.8L632.5,288.5L627.5,278.2L622.5,271.8L614.5,274.8L602.5,278.2L598.5,273.2L599.8,261.5L596.5,251.2L594.8,249.5L590.5,246.8L589.2,246.5L583.2,247.8L576.8,250.5L564.8,246.5L552.5,244.2L538.8,246.5L532.8,244.2ZM570.2,587.8L576.5,587.8L581.8,591.8L583.8,597.5L581.8,603.8L576.5,607.8L570.2,607.8L564.8,603.8L562.8,598.2L564.8,591.8ZM488.5,216.5L487.2,217.5L486.8,218.8L488.5,220.8L489.8,220.8L491.2,219.8L491.5,218.2L490.8,216.8Z"/>
<path fill="#00bc00" fill-rule="evenodd" d="M680.8,700.8L681.2,701.8L687.5,702.5L689.5,700.5L688.8,699.2L688.2,698.8L684.2,698.5L682.8,698.8ZM587.8,619.5L582.8,621.8L585.2,632.2L591.5,630.8L592.8,624.5ZM546.2,252.5L536.5,257.8L535.2,268.5L528.2,291.8L525.2,304.8L516.2,315.8L509.2,327.8L496.5,344.2L492.8,347.2L491.2,350.2L491.5,351.2L490.8,353.2L492.5,363.2L492.5,384.2L490.2,398.2L488.8,400.8L481.8,408.8L476.2,420.5L475.2,421.5L466.8,423.5L459.5,419.8L445.8,399.8L438.2,394.5L425.2,392.2L401.5,385.5L392.8,390.5L383.5,401.2L369.8,424.5L368.2,427.8L365.2,436.8L362.2,438.8L352.2,443.2L343.5,448.5L336.8,459.2L333.2,461.8L330.5,464.5L326.5,470.5L326.8,488.5L327.2,488.8L328.2,511.2L332.5,523.2L336.8,541.5L338.2,561.5L341.5,570.8L343.5,574.8L345.8,577.2L350.2,584.8L353.2,595.8L360.5,610.2L367.2,620.8L374.8,653.5L381.2,663.5L390.8,667.5L403.8,668.8L413.5,673.2L418.2,675.8L421.8,676.2L423.8,675.2L429.2,671.2L431.2,671.8L436.8,672.5L437.8,673.2L440.2,673.5L446.5,675.8L449.8,677.8L452.5,680.2L460.8,693.2L466.5,694.5L467.8,694.2L473.8,690.2L478.2,683.5L482.2,679.5L490.5,674.8L493.8,672.2L499.5,664.2L505.2,651.5L506.2,635.2L504.2,624.2L494.8,604.5L493.5,590.8L494.5,586.2L498.2,583.2L488.2,583.2L487.8,582.8L488.2,573.5L492.2,561.2L499.2,558.5L507.2,562.2L518.2,563.5L529.2,561.2L538.2,558.5L547.5,563.2L554.5,571.5L565.5,577.2L569.5,579.8L583.8,579.8L584.5,580.2L590.2,585.8L590.2,595.8L592.8,601.5L595.8,604.5L599.5,604.2L610.2,600.5L623.2,599.2L630.5,603.8L632.5,606.2L637.8,608.8L638.5,608.8L644.2,605.2L650.8,602.8L670.8,612.8L676.5,621.5L678.8,630.5L676.2,642.8L677.5,656.5L681.2,666.2L688.8,673.8L708.8,683.8L718.8,680.2L730.5,681.5L744.5,680.2L750.8,675.2L755.8,663.8L759.2,651.8L765.5,641.2L771.5,633.8L781.8,626.2L792.2,621.2L799.8,615.8L807.8,607.8L813.8,597.8L815.2,585.8L812.8,583.5L807.5,579.5L803.5,577.5L799.2,574.5L797.5,569.2L800.5,557.8L802.5,545.8L806.5,536.5L803.8,526.8L806.5,517.5L807.5,503.8L805.2,491.5L796.2,469.2L795.8,467.5L796.5,462.8L796.2,461.5L789.5,450.8L782.2,440.8L776.8,430.2L774.8,421.2L767.2,418.5L750.5,401.8L741.2,397.2L735.8,387.2L729.2,378.2L716.5,374.2L708.8,363.8L700.5,358.2L698.5,355.8L688.8,352.2L683.8,346.2L679.8,344.5L674.2,338.8L669.2,330.8L662.5,318.2L656.5,305.2L646.2,299.5L623.8,288.5L620.2,281.8L608.2,283.2L597.5,280.8L596.8,280.2L593.8,269.8L591.2,255.5L585.8,250.5L577.5,254.2L567.8,252.8L558.5,249.2Z"/>
<path fill="#00a13d" fill-rule="evenodd" d="M330.5,470.8L330.5,498.8L333.8,517.5L340.8,535.8L341.8,555.2L345.8,567.8L353.8,583.8L355.8,596.5L365.8,609.8L372.2,620.8L376.2,637.8L378.5,651.2L386.8,658.8L397.8,661.5L406.8,662.5L414.8,666.5L419.5,669.5L422.8,669.8L425.8,669.2L431.8,663.5L437.8,666.2L444.8,668.5L450.5,673.5L453.5,677.8L454.2,678.2L455.2,680.2L460.2,686.2L461.5,687.2L465.8,688.2L469.5,680.2L473.8,674.8L476.2,673.5L481.8,672.2L488.2,669.2L491.5,665.8L496.5,656.5L499.8,646.2L501.2,633.8L500.8,629.5L498.8,619.2L494.8,610.8L491.2,600.8L489.8,589.2L490.2,585.8L493.8,583.2L484.8,583.2L484.5,582.8L484.5,572.8L486.2,562.5L486.2,560.2L489.2,549.2L489.8,548.2L499.5,551.2L508.2,557.5L517.2,559.8L530.5,557.2L537.8,553.8L548.8,559.5L555.5,567.2L568.5,572.2L580.5,578.2L582.5,579.8L584.5,580.2L590.2,585.8L590.5,592.8L592.8,597.2L595.5,599.5L596.5,599.5L610.2,594.2L620.8,592.8L631.5,596.8L640.5,599.2L650.8,596.5L660.8,601.5L670.8,607.8L679.2,616.2L682.5,625.5L681.2,637.2L682.5,651.5L686.5,661.2L693.8,668.8L706.2,673.8L711.2,674.2L717.8,675.2L732.2,675.2L744.5,671.2L752.2,661.2L757.2,648.2L761.8,638.8L769.5,628.5L787.5,616.8L799.8,609.5L806.2,601.2L806.8,599.5L809.2,585.8L800.2,577.5L795.8,574.2L795.2,566.2L792.5,556.5L793.8,547.2L792.5,535.8L795.2,525.5L798.8,517.5L801.5,505.2L800.2,492.8L795.2,480.8L791.5,469.2L791.8,468.8L791.5,467.8L791.8,464.2L790.8,462.2L786.5,457.2L779.5,445.8L774.8,436.5L772.2,427.2L763.5,423.5L757.8,416.5L747.8,406.8L738.2,402.2L733.5,393.5L727.2,383.5L714.2,378.2L706.5,367.8L681.8,360.8L680.5,359.8L676.5,354.5L673.5,344.5L664.5,331.8L661.5,324.8L651.8,305.5L636.5,299.2L609.2,288.8L597.2,287.2L592.2,280.8L589.8,268.2L583.5,260.5L572.5,259.5L557.8,256.8L545.5,261.8L540.2,268.2L537.8,293.8L534.2,303.5L531.8,307.2L524.8,315.8L518.2,327.8L508.2,339.8L505.2,344.2L503.8,344.8L500.2,348.2L498.2,352.5L497.8,358.5L498.8,368.2L498.8,372.8L498.5,373.2L497.5,389.8L492.2,405.2L484.5,416.2L475.8,431.2L465.8,432.5L457.2,426.5L450.5,415.5L445.8,406.2L439.2,399.5L427.5,397.2L415.8,393.5L403.8,390.8L395.5,395.5L387.2,404.8L380.8,416.5L377.8,425.5L375.2,430.8L366.5,445.8L353.5,452.5L347.5,459.5L339.8,462.8L334.5,466.5Z"/>
<path fill="#00aaa5" fill-rule="evenodd" d="M778.8,608.5L777.5,609.5L777.2,610.5L777.5,612.8L778.8,613.8L780.8,613.8L782.2,612.8L782.5,611.8L782.2,609.5L780.8,608.5ZM336.8,470.8L338.2,492.8L340.8,511.2L345.8,529.5L347.5,551.2L349.5,561.5L355.2,575.2L354.8,575.8L355.5,578.5L356.8,580.5L359.8,582.8L365.2,585.2L368.8,586.2L378.5,590.5L383.5,596.8L386.5,601.5L388.8,615.5L398.8,625.8L400.2,638.5L403.8,642.2L412.8,638.5L421.2,643.2L425.2,650.8L430.2,653.5L437.8,649.8L438.8,650.2L445.5,654.8L453.2,671.2L456.8,663.8L459.2,656.8L460.2,655.8L467.8,653.2L479.2,650.2L486.8,646.2L491.2,636.2L493.5,610.2L490.2,598.5L485.5,586.2L487.8,583.2L479.8,583.2L479.5,582.8L479.5,572.5L481.8,556.2L483.2,536.2L489.2,527.5L498.8,520.5L502.8,525.8L504.2,538.8L507.8,548.5L517.5,553.5L528.5,552.5L538.2,550.8L549.2,555.2L551.2,556.5L555.5,563.5L568.5,567.2L580.5,573.2L589.5,579.5L593.2,581.2L592.8,583.2L589.5,583.2L594.2,584.8L600.5,583.2L595.5,583.2L595.2,582.8L595.2,571.5L605.5,564.8L615.8,566.8L617.5,567.8L622.2,576.5L622.2,581.5L622.5,581.8L627.2,582.5L639.5,585.5L647.2,589.8L658.8,594.2L670.8,600.2L681.2,608.2L685.2,617.8L682.5,643.8L686.5,653.5L697.2,660.2L708.8,663.5L711.2,663.5L711.5,663.2L722.5,662.5L734.8,659.8L744.5,656.2L751.2,645.5L762.2,625.8L767.2,613.5L769.8,600.2L774.8,588.2L775.2,586.2L777.2,583.5L780.2,575.8L779.8,575.2L779.8,559.8L782.5,535.8L787.5,526.2L791.2,517.5L793.8,505.2L793.8,491.5L785.2,470.8L783.8,461.8L777.5,452.2L772.2,441.2L763.2,430.8L757.5,421.5L750.5,415.5L742.2,411.2L734.2,404.2L727.5,399.8L719.2,395.8L714.8,390.2L706.5,383.2L699.2,385.5L693.8,384.5L680.8,376.5L667.8,370.2L658.5,364.2L657.5,355.8L662.2,348.8L663.5,345.8L663.8,343.8L657.8,331.5L651.5,315.5L646.2,305.8L645.2,305.2L629.2,300.5L607.2,292.8L592.8,288.8L583.5,285.2L581.8,283.8L578.2,276.2L573.2,269.5L561.5,268.2L554.5,270.5L549.8,280.5L550.5,293.8L547.2,305.5L540.2,315.8L533.5,329.5L526.8,340.5L520.8,346.5L516.5,352.8L511.2,358.2L506.2,365.5L514.2,373.5L517.8,383.8L523.8,406.8L523.5,407.2L512.5,408.5L502.8,413.5L489.8,418.5L485.8,425.2L479.5,438.2L474.8,445.2L458.5,433.8L441.2,416.8L428.2,413.2L404.5,408.5L390.2,409.5L403.8,417.2L402.5,426.2L397.5,436.2L387.8,447.2L378.2,455.5L370.2,459.5L367.8,459.8L360.8,463.2L353.5,465.2L345.8,465.2L339.8,467.8ZM620.8,554.5L621.8,554.5L623.2,556.2L621.8,558.2L620.8,558.2L619.5,556.5L619.5,555.8ZM414.2,538.5L415.2,538.5L416.5,540.2L415.2,542.2L414.2,542.2L412.8,540.8L413.2,539.5ZM484.2,509.5L486.2,509.8L487.5,511.8L485.5,514.5L484.2,514.5L482.2,512.5L482.5,510.5ZM462.5,491.8L464.2,491.8L465.5,492.8L465.8,494.5L465.5,495.5L464.2,496.8L462.5,496.8L460.8,494.8L461.2,492.8ZM397.5,469.8L403.8,468.8L404.5,469.8L406.2,476.8L404.5,482.8L403.8,483.8L398.8,483.2L398.2,482.2L396.5,476.8L396.8,471.8Z"/>
<path fill="#0090dd" fill-rule="evenodd" d="M416.5,422.2L409.8,427.5L404.2,435.5L403.5,437.2L402.5,444.2L398.5,454.2L391.2,458.8L388.8,459.8L363.8,465.2L356.2,465.2L350.2,467.8L346.8,470.8L345.8,499.5L350.5,534.8L353.5,548.8L358.8,561.8L364.8,570.2L386.8,575.8L387.2,576.5L388.2,576.8L388.8,582.8L397.8,589.5L402.5,597.8L404.2,602.2L405.2,613.2L411.8,623.5L420.8,629.2L431.5,634.5L441.5,638.5L452.8,637.5L464.5,635.8L472.2,640.8L479.8,642.2L484.8,634.5L486.2,624.5L487.2,610.5L491.2,603.2L491.2,602.2L489.5,596.8L486.8,593.8L481.5,583.8L479.5,582.8L479.5,578.8L478.8,577.8L478.5,572.5L479.8,559.8L477.2,535.8L467.5,517.5L461.2,508.8L454.5,498.2L453.5,487.2L451.2,475.5L450.2,467.2L450.8,461.5L451.5,460.5L451.8,455.8L449.5,446.8L447.2,434.5L441.8,423.5L429.8,421.2ZM448.8,608.5L451.5,608.5L453.8,610.5L454.8,612.8L453.8,615.8L451.5,617.5L448.8,617.5L446.8,616.5L445.2,613.5L446.2,610.5ZM424.2,586.2L428.5,587.2L429.5,587.8L432.2,598.2L429.2,605.8L424.8,604.8L423.8,604.2L421.2,596.8L423.5,587.2ZM449.5,579.8L451.8,579.8L453.2,580.5L454.2,581.8L454.5,583.2L454.2,584.8L451.8,587.2L449.5,587.2L447.5,585.5L446.8,583.8L447.5,581.2ZM414.2,506.5L422.2,518.8L424.5,528.2L422.8,539.8L418.2,552.5L409.8,561.8L402.5,566.8L401.8,565.2L401.2,559.2L390.8,554.8L398.8,550.5L403.5,541.2L399.8,528.8L401.2,518.2L408.5,510.8ZM384.8,461.8L415.5,461.8L415.8,462.2L414.5,476.8L408.8,489.8L403.8,497.2L398.8,495.8L390.8,485.5L385.8,473.2L384.5,463.2ZM565.8,279.5L564.2,283.8L558.2,295.5L551.2,314.2L543.5,329.5L537.2,339.5L535.2,344.2L529.5,349.5L525.2,356.2L527.8,383.8L532.8,408.5L529.5,415.2L528.5,416.2L517.2,421.2L505.2,427.2L497.5,433.5L486.8,454.5L484.8,460.5L483.8,461.8L483.8,462.8L482.8,464.8L483.2,467.5L485.5,470.5L496.5,492.5L497.8,498.2L503.5,516.5L509.8,528.2L515.2,534.8L529.5,538.5L542.8,541.2L550.8,548.8L558.2,558.8L567.5,561.2L579.8,559.2L583.8,557.2L584.5,557.2L586.8,559.2L586.8,547.5L589.5,546.8L599.2,545.8L609.2,535.8L615.5,545.8L622.8,550.5L631.2,561.2L636.2,573.5L637.8,581.8L659.8,585.5L668.8,589.2L678.8,594.2L687.8,603.2L694.5,614.5L698.8,626.2L704.8,638.2L711.5,644.8L722.2,643.5L731.5,639.5L741.2,636.2L742.5,635.2L749.8,625.5L756.5,614.5L769.8,587.8L770.2,585.5L773.5,579.5L773.5,578.5L774.8,575.8L774.5,575.5L774.8,572.5L773.5,562.5L774.8,549.8L774.8,535.5L777.5,521.2L779.8,511.5L780.8,494.5L781.2,494.2L781.2,491.5L777.2,478.8L773.8,470.8L775.2,467.2L775.8,463.2L775.5,460.2L775.8,459.5L773.2,456.2L766.8,445.5L754.2,428.2L744.8,422.5L728.8,409.2L718.5,404.2L712.2,399.8L701.8,395.8L691.5,394.5L683.2,386.2L677.2,381.2L667.5,375.2L657.2,367.8L655.2,358.8L653.2,354.8L653.5,354.5L653.2,350.2L654.8,345.2L654.2,338.8L651.8,330.8L646.8,321.5L627.5,305.5L610.5,299.2L583.8,287.8L578.8,284.8L573.2,278.2Z"/>
<path fill="#001cdd" fill-rule="evenodd" d="M415.2,578.5L411.8,578.2L406.5,579.2L399.5,582.5L399.2,583.5L401.5,586.5L412.8,586.5L415.2,582.8ZM435.5,542.2L435.5,552.2L436.8,561.2L441.8,563.8L449.5,561.2L455.5,564.8L462.2,572.5L467.5,567.2L472.5,559.5L474.8,551.2L467.5,553.8L458.2,553.8L448.5,548.8L440.5,541.2ZM439.2,503.2L435.5,508.2L436.8,513.2L444.5,513.2L445.5,509.5ZM436.8,480.2L435.5,480.8L435.2,482.8L436.8,484.5L438.2,484.5L439.8,482.2L438.8,480.5ZM378.5,472.8L360.2,474.2L350.8,476.5L347.8,487.5L347.2,505.8L349.5,524.2L353.5,542.5L361.5,560.2L366.2,567.5L378.8,550.8L386.5,535.5L391.5,519.2L392.5,507.8L388.2,496.8L381.2,483.2ZM424.2,450.2L424.5,463.8L427.2,463.8L427.2,450.2ZM573.2,295.8L569.8,300.2L566.5,307.8L564.8,314.8L557.8,328.8L549.2,340.8L548.5,347.8L547.8,350.2L547.8,352.2L550.5,363.5L549.2,377.2L552.8,388.8L553.5,389.8L563.2,395.8L553.5,401.8L547.2,410.2L546.8,411.5L549.2,421.2L543.2,430.8L537.2,438.2L535.2,439.5L511.5,448.8L503.5,455.5L499.5,459.8L498.8,459.8L496.2,461.8L494.2,464.2L492.8,467.5L497.5,479.5L504.2,492.5L507.5,504.8L514.2,517.8L516.2,525.2L516.8,526.2L523.8,529.8L536.5,523.5L549.2,525.8L553.2,516.2L555.5,506.2L561.5,503.2L574.2,506.8L584.2,507.5L588.2,511.8L593.2,514.2L595.5,514.2L597.2,512.8L605.2,510.8L615.8,511.8L622.5,514.2L623.5,514.8L627.8,523.2L633.8,532.2L640.8,551.5L645.5,560.8L653.5,568.8L665.8,573.8L673.8,576.2L674.2,576.8L676.8,577.8L679.5,579.8L684.2,584.8L683.8,585.5L688.8,595.5L696.8,604.5L717.2,617.2L732.2,628.2L736.8,625.8L735.5,615.2L733.2,610.2L740.8,590.2L743.5,585.2L743.8,582.8L743.5,575.2L743.2,574.8L745.2,570.2L750.5,561.5L758.5,552.5L765.5,542.8L770.2,529.2L773.5,517.5L774.8,503.8L772.5,492.8L767.8,480.5L762.2,471.2L762.5,468.8L766.2,459.2L758.8,449.2L751.2,440.2L742.8,433.2L734.8,428.8L729.5,421.5L723.2,415.8L711.2,408.2L701.5,403.2L691.5,400.8L685.2,394.5L677.2,395.8L667.5,394.8L665.5,394.2L655.5,387.8L646.5,385.8L645.5,384.8L642.2,377.2L639.5,367.5L631.8,350.5L633.2,347.5L634.2,346.5L642.2,345.5L643.2,345.8L644.5,344.5L644.2,340.8L639.2,330.8L628.2,322.5L626.5,321.8L606.2,318.2L584.5,318.8L579.2,311.5L577.5,304.2Z"/>
<path fill="#1800a7" fill-rule="evenodd" d="M371.2,481.5L363.5,481.5L354.5,498.2L353.5,511.8L355.8,526.2L360.8,536.2L364.8,538.5L367.2,527.2L375.2,520.5L383.8,511.8L382.5,503.2ZM511.5,478.5L510.8,479.2L510.8,480.5L512.5,480.8L513.2,479.8L512.5,478.5ZM546.5,449.8L537.5,448.8L527.8,452.5L521.8,460.8L521.2,462.8L521.2,466.5L522.5,468.8L524.2,470.2L527.5,474.8L533.8,487.5L536.5,494.2L543.8,484.2L549.5,477.5L557.8,469.5L558.5,468.2L558.2,463.8L555.2,458.5L554.2,455.2L548.8,450.8ZM559.5,436.2L559.5,443.2L563.2,443.8L563.8,436.2ZM583.5,407.8L572.2,408.5L573.2,413.5L580.8,413.5ZM633.2,391.8L627.8,396.2L613.5,418.8L608.8,426.8L605.5,436.2L595.8,446.8L592.2,458.8L587.2,462.8L584.5,466.2L581.8,467.8L579.5,470.5L579.5,471.5L582.2,477.8L585.8,481.5L588.8,483.5L591.2,483.8L595.2,481.8L599.5,481.5L611.2,485.2L621.5,491.5L630.8,500.5L636.5,512.2L643.8,524.2L647.2,535.8L648.5,548.5L656.5,560.5L669.8,567.2L681.8,571.8L684.5,573.8L689.2,575.8L693.5,579.8L695.5,580.5L698.5,580.8L700.5,579.8L701.5,579.8L706.5,576.8L719.5,578.2L720.8,577.2L731.8,573.8L739.5,565.2L741.8,554.8L750.2,545.5L756.5,537.2L762.2,526.2L762.2,514.2L764.8,504.8L762.5,494.8L755.8,486.8L745.8,477.8L739.5,470.8L740.2,469.2L742.5,466.8L747.2,464.8L750.8,464.8L754.2,463.5L757.2,461.2L758.2,458.8L754.8,454.2L746.5,445.8L737.8,439.5L731.2,430.2L726.2,424.2L717.2,417.5L707.8,413.8L694.2,409.5L681.8,407.2L668.2,407.2L656.8,410.5L647.2,415.8L642.5,409.2L637.8,398.8ZM595.8,394.8L599.2,398.2L603.8,394.8L612.5,386.2L621.8,379.2L600.2,375.5L595.8,376.2L593.5,378.8L592.5,380.8L593.5,387.2ZM609.2,349.2L607.8,347.2L604.5,344.8L603.2,344.5L601.2,342.5L592.5,340.2L583.2,341.5L576.2,344.5L569.2,345.8L563.5,348.8L562.5,349.8L562.2,351.2L562.5,352.2L565.8,355.2L571.2,355.2L571.5,354.8L574.2,355.2L583.8,353.2L586.8,353.2L596.5,354.8L603.2,353.2L607.8,350.8L609.2,349.8L608.8,349.5Z"/>
<path fill="#7e008f" fill-rule="evenodd" d="M620.8,451.8L619.8,452.5L619.5,453.8L620.2,454.8L621.8,455.2L622.8,454.5L623.2,453.2L622.5,452.2ZM696.5,428.5L690.5,432.2L683.8,439.8L676.5,437.5L666.2,438.8L657.2,446.5L649.5,455.5L645.2,459.8L642.8,460.8L640.2,462.8L638.2,465.5L638.5,466.8L638.2,467.2L640.5,471.2L648.5,481.5L653.5,491.5L656.5,505.5L658.5,517.5L663.5,528.5L680.2,544.8L693.8,556.2L706.5,548.5L719.2,553.8L717.8,541.2L721.2,536.8L723.2,535.5L732.2,532.2L739.5,528.5L740.8,517.8L744.5,508.5L746.8,497.5L744.5,487.8L736.2,477.5L731.5,470.8L727.8,467.2L725.2,461.8L723.2,459.8L719.5,452.8L714.5,445.5L709.8,439.5L702.5,432.2Z"/>
<path fill="#000000" fill-rule="evenodd" d="M711.5,494.2L705.2,492.5L700.5,495.2L693.5,503.5L685.5,507.8L682.5,511.8L687.5,514.5L696.5,515.8L703.8,512.2L708.8,508.5L709.5,507.5L711.5,500.8ZM694.2,479.2L693.5,480.2L693.8,481.5L696.2,481.8L696.8,480.8L696.5,479.5L695.8,478.8Z"/>
<rect x="236.3" y="146.5" width="730.8" height="680.9" fill="none" stroke="#6a6a6a" stroke-width="3.2"/>
<line x1="250.1" y1="827.4" x2="250.1" y2="835.8" stroke="#777" stroke-width="2.4"/>
<text x="250.1" y="880.9" font-size="51.7" text-anchor="middle" stroke="#fff" stroke-width="0.15" stroke-linejoin="round">−12</text>
<line x1="227.9" y1="814.8" x2="236.3" y2="814.8" stroke="#777" stroke-width="2.4"/>
<text x="222.0" y="834.1" font-size="51.7" text-anchor="end" stroke="#fff" stroke-width="0.15" stroke-linejoin="round">−12</text>
<line x1="367.1" y1="827.4" x2="367.1" y2="835.8" stroke="#777" stroke-width="2.4"/>
<text x="367.1" y="880.9" font-size="51.7" text-anchor="middle" stroke="#fff" stroke-width="0.15" stroke-linejoin="round">−8</text>
<line x1="227.9" y1="705.6" x2="236.3" y2="705.6" stroke="#777" stroke-width="2.4"/>
<text x="222.0" y="724.9" font-size="51.7" text-anchor="end" stroke="#fff" stroke-width="0.15" stroke-linejoin="round">−8</text>
<line x1="484.2" y1="827.4" x2="484.2" y2="835.8" stroke="#777" stroke-width="2.4"/>
<text x="484.2" y="880.9" font-size="51.7" text-anchor="middle" stroke="#fff" stroke-width="0.15" stroke-linejoin="round">−4</text>
<line x1="227.9" y1="596.4" x2="236.3" y2="596.4" stroke="#777" stroke-width="2.4"/>
<text x="222.0" y="615.7" font-size="51.7" text-anchor="end" stroke="#fff" stroke-width="0.15" stroke-linejoin="round">−4</text>
<line x1="601.3" y1="827.4" x2="601.3" y2="835.8" stroke="#777" stroke-width="2.4"/>
<text x="601.3" y="880.9" font-size="51.7" text-anchor="middle" stroke="#fff" stroke-width="0.15" stroke-linejoin="round">0</text>
<line x1="227.9" y1="487.2" x2="236.3" y2="487.2" stroke="#777" stroke-width="2.4"/>
<text x="222.0" y="506.5" font-size="51.7" text-anchor="end" stroke="#fff" stroke-width="0.15" stroke-linejoin="round">0</text>
<line x1="718.4" y1="827.4" x2="718.4" y2="835.8" stroke="#777" stroke-width="2.4"/>
<text x="718.4" y="880.9" font-size="51.7" text-anchor="middle" stroke="#fff" stroke-width="0.15" stroke-linejoin="round">4</text>
<line x1="227.9" y1="378.0" x2="236.3" y2="378.0" stroke="#777" stroke-width="2.4"/>
<text x="222.0" y="397.3" font-size="51.7" text-anchor="end" stroke="#fff" stroke-width="0.15" stroke-linejoin="round">4</text>
<line x1="835.5" y1="827.4" x2="835.5" y2="835.8" stroke="#777" stroke-width="2.4"/>
<text x="835.5" y="880.9" font-size="51.7" text-anchor="middle" stroke="#fff" stroke-width="0.15" stroke-linejoin="round">8</text>
<line x1="227.9" y1="268.8" x2="236.3" y2="268.8" stroke="#777" stroke-width="2.4"/>
<text x="222.0" y="288.1" font-size="51.7" text-anchor="end" stroke="#fff" stroke-width="0.15" stroke-linejoin="round">8</text>
<line x1="952.5" y1="827.4" x2="952.5" y2="835.8" stroke="#777" stroke-width="2.4"/>
<text x="952.5" y="880.9" font-size="51.7" text-anchor="middle" stroke="#fff" stroke-width="0.15" stroke-linejoin="round">12</text>
<line x1="227.9" y1="159.6" x2="236.3" y2="159.6" stroke="#777" stroke-width="2.4"/>
<text x="222.0" y="178.9" font-size="51.7" text-anchor="end" stroke="#fff" stroke-width="0.15" stroke-linejoin="round">12</text>
<text x="601.2" y="948.2" font-size="62" text-anchor="middle" stroke="#fff" stroke-width="0.15" stroke-linejoin="round">Eigenvetor 1</text>
<text transform="translate(92.9,487.0) rotate(-90)" font-size="62" text-anchor="middle" stroke="#fff" stroke-width="0.15" stroke-linejoin="round">Eigenvetor 2</text>
<rect x="1012.3" y="146.10" width="35.0" height="45.83" fill="#ffffff"/>
<rect x="1012.3" y="191.43" width="35.0" height="45.83" fill="#d30000"/>
<rect x="1012.3" y="236.76" width="35.0" height="45.83" fill="#f90000"/>
<rect x="1012.3" y="282.09" width="35.0" height="45.83" fill="#ffa500"/>
<rect x="1012.3" y="327.42" width="35.0" height="45.83" fill="#f3e500"/>
<rect x="1012.3" y="372.75" width="35.0" height="45.83" fill="#a1ff00"/>
<rect x="1012.3" y="418.08" width="35.0" height="45.83" fill="#00ec00"/>
<rect x="1012.3" y="463.41" width="35.0" height="45.83" fill="#00bc00"/>
<rect x="1012.3" y="508.74" width="35.0" height="45.83" fill="#00a13d"/>
<rect x="1012.3" y="554.07" width="35.0" height="45.83" fill="#00aaa5"/>
<rect x="1012.3" y="599.40" width="35.0" height="45.83" fill="#0090dd"/>
<rect x="1012.3" y="644.73" width="35.0" height="45.83" fill="#001cdd"/>
<rect x="1012.3" y="690.06" width="35.0" height="45.83" fill="#1800a7"/>
<rect x="1012.3" y="735.39" width="35.0" height="45.83" fill="#7e008f"/>
<rect x="1012.3" y="780.72" width="35.0" height="45.83" fill="#000000"/>
<rect x="1012.3" y="146.1" width="35.0" height="679.9" fill="none" stroke="#4d4d4d" stroke-opacity="0.85" stroke-width="2.2"/>
<line x1="1047.3" y1="146.1" x2="1054.3" y2="146.1" stroke="#666" stroke-width="2"/>
<text x="1060.8" y="153.5" font-size="20.3" fill="#222">0</text>
<line x1="1047.3" y1="191.4" x2="1054.3" y2="191.4" stroke="#666" stroke-width="2"/>
<text x="1060.8" y="198.8" font-size="20.3" fill="#222">−1</text>
<line x1="1047.3" y1="236.8" x2="1054.3" y2="236.8" stroke="#666" stroke-width="2"/>
<text x="1060.8" y="244.2" font-size="20.3" fill="#222">−2</text>
<line x1="1047.3" y1="282.1" x2="1054.3" y2="282.1" stroke="#666" stroke-width="2"/>
<text x="1060.8" y="289.5" font-size="20.3" fill="#222">−3</text>
<line x1="1047.3" y1="327.4" x2="1054.3" y2="327.4" stroke="#666" stroke-width="2"/>
<text x="1060.8" y="334.8" font-size="20.3" fill="#222">−4</text>
<line x1="1047.3" y1="372.8" x2="1054.3" y2="372.8" stroke="#666" stroke-width="2"/>
<text x="1060.8" y="380.1" font-size="20.3" fill="#222">−5</text>
<line x1="1047.3" y1="418.1" x2="1054.3" y2="418.1" stroke="#666" stroke-width="2"/>
<text x="1060.8" y="425.5" font-size="20.3" fill="#222">−6</text>
<line x1="1047.3" y1="463.4" x2="1054.3" y2="463.4" stroke="#666" stroke-width="2"/>
<text x="1060.8" y="470.8" font-size="20.3" fill="#222">−7</text>
<line x1="1047.3" y1="508.7" x2="1054.3" y2="508.7" stroke="#666" stroke-width="2"/>
<text x="1060.8" y="516.1" font-size="20.3" fill="#222">−8</text>
<line x1="1047.3" y1="554.1" x2="1054.3" y2="554.1" stroke="#666" stroke-width="2"/>
<text x="1060.8" y="561.5" font-size="20.3" fill="#222">−9</text>
<line x1="1047.3" y1="599.4" x2="1054.3" y2="599.4" stroke="#666" stroke-width="2"/>
<text x="1060.8" y="606.8" font-size="20.3" fill="#222">−10</text>
<line x1="1047.3" y1="644.7" x2="1054.3" y2="644.7" stroke="#666" stroke-width="2"/>
<text x="1060.8" y="652.1" font-size="20.3" fill="#222">−11</text>
<line x1="1047.3" y1="690.1" x2="1054.3" y2="690.1" stroke="#666" stroke-width="2"/>
<text x="1060.8" y="697.5" font-size="20.3" fill="#222">−12</text>
<line x1="1047.3" y1="735.4" x2="1054.3" y2="735.4" stroke="#666" stroke-width="2"/>
<text x="1060.8" y="742.8" font-size="20.3" fill="#222">−13</text>
<line x1="1047.3" y1="780.7" x2="1054.3" y2="780.7" stroke="#666" stroke-width="2"/>
<text x="1060.8" y="788.1" font-size="20.3" fill="#222">−14</text>
<line x1="1047.3" y1="826.0" x2="1054.3" y2="826.0" stroke="#666" stroke-width="2"/>
<text x="1060.8" y="833.4" font-size="20.3" fill="#222">−15</text>
<text transform="translate(1158.8,486.2) rotate(-90)" font-size="61.65" text-anchor="middle" stroke="#fff" stroke-width="0.15" stroke-linejoin="round">Free energy (kJ/mol)</text>
</g>
<g>
<rect x="1411.7" y="144.4" width="731.0" height="682.0" fill="#fff"/>
<path fill="#d30000" fill-rule="evenodd" d="M1617.2,676.5L1618.2,679.5L1634.2,679.2L1634.8,676.5L1627.2,675.5ZM1606.5,666.8L1605.2,667.8L1604.5,670.2L1605.2,671.5L1606.5,672.5L1608.5,672.5L1610.2,671.5L1610.5,670.5L1610.2,667.8L1608.5,666.8ZM1923.8,623.5L1922.5,624.5L1921.8,626.5L1922.5,627.8L1923.8,628.8L1925.5,628.8L1926.8,627.8L1927.5,625.8L1926.2,623.8ZM1829.8,623.5L1828.5,624.5L1827.8,626.5L1828.5,627.8L1829.8,628.8L1831.5,628.8L1832.8,627.8L1833.5,625.8L1832.2,623.8ZM1606.8,614.2L1605.2,615.5L1604.5,617.5L1605.5,619.5L1606.5,620.2L1608.5,620.2L1610.2,619.2L1610.5,616.5L1609.8,614.8L1608.5,614.2ZM2029.5,506.5L2026.5,510.2L2025.2,514.8L2026.5,519.8L2027.2,520.2L2027.2,521.8L2027.8,522.5L2030.8,521.5L2031.5,513.5ZM1997.2,429.2L1992.2,429.2L1985.8,434.2L1979.5,434.2L1973.2,429.2L1966.8,430.8L1958.5,431.8L1957.2,429.8L1955.5,425.2L1958.2,419.2L1963.2,414.2L1960.8,411.5L1955.8,413.2L1949.8,414.2L1948.8,413.5L1946.8,409.2L1949.5,406.8L1951.2,404.5L1951.8,401.5L1948.2,400.5L1943.5,400.2L1940.8,399.5L1937.2,399.5L1934.2,398.8L1928.8,393.5L1924.2,390.2L1913.5,388.8L1907.5,385.8L1906.5,379.5L1908.5,374.2L1909.2,373.5L1913.8,372.5L1917.5,374.5L1922.8,381.2L1927.8,381.2L1931.5,376.2L1931.5,368.5L1926.5,363.5L1919.5,364.8L1910.2,363.5L1907.5,359.8L1908.8,350.8L1904.5,346.5L1897.8,341.5L1892.2,336.5L1890.5,335.5L1884.2,333.5L1883.5,332.8L1884.8,327.8L1881.8,321.5L1877.2,319.2L1870.8,324.5L1865.8,326.8L1862.2,323.2L1859.5,315.5L1854.5,310.5L1842.2,309.8L1839.8,309.2L1829.5,309.2L1824.5,304.2L1818.5,301.5L1811.2,306.2L1803.2,309.2L1790.2,298.8L1784.2,295.2L1779.2,299.2L1771.5,301.5L1766.2,297.5L1760.2,294.2L1757.5,297.8L1762.5,302.8L1761.8,306.8L1761.2,307.8L1755.2,306.5L1750.8,303.8L1747.2,302.5L1744.5,302.5L1738.5,301.5L1724.8,301.5L1718.5,306.5L1717.2,312.8L1713.2,319.2L1703.2,320.5L1694.5,325.5L1685.5,326.8L1679.2,321.2L1675.5,323.2L1679.5,325.8L1682.8,330.8L1679.2,335.8L1674.2,338.2L1670.5,342.2L1676.2,345.5L1679.2,350.8L1674.8,354.2L1668.5,360.5L1663.5,366.8L1657.8,371.2L1649.8,372.8L1640.5,375.5L1628.8,381.2L1618.8,383.8L1614.2,380.5L1607.2,373.5L1594.5,373.5L1594.5,379.2L1600.2,390.2L1604.2,400.2L1604.8,404.8L1605.8,407.8L1609.8,412.8L1607.5,417.5L1602.2,420.5L1605.5,426.5L1610.8,431.8L1606.8,435.8L1599.8,440.2L1592.5,447.2L1582.5,449.5L1575.5,448.2L1571.8,444.5L1565.2,449.8L1555.5,455.8L1567.8,468.5L1569.2,474.8L1573.2,476.2L1577.2,472.8L1578.8,472.2L1585.8,473.5L1593.2,478.5L1607.2,478.5L1618.5,479.8L1622.2,486.2L1621.2,493.8L1610.5,506.8L1606.8,514.2L1604.2,515.2L1602.5,514.8L1595.8,506.5L1590.8,511.5L1591.8,518.8L1594.2,521.8L1597.2,524.5L1598.2,531.2L1596.8,531.8L1588.2,532.8L1580.5,537.8L1579.5,553.2L1584.5,558.2L1588.8,559.8L1590.8,561.2L1588.2,570.8L1592.5,576.5L1599.8,582.8L1601.5,583.8L1607.2,585.2L1625.5,590.8L1633.8,597.2L1634.5,607.5L1634.8,607.8L1634.8,614.8L1634.2,618.2L1633.5,626.5L1631.8,627.2L1608.2,629.2L1601.2,634.8L1591.8,644.5L1600.8,647.8L1611.2,650.8L1620.8,655.8L1633.5,657.2L1638.5,662.2L1643.2,664.5L1649.8,659.5L1655.8,657.2L1683.2,657.2L1691.5,658.2L1697.2,663.8L1705.5,666.2L1714.5,667.2L1720.2,672.8L1724.5,676.2L1749.8,676.2L1754.8,670.8L1758.2,663.8L1762.2,661.2L1768.5,657.8L1787.8,653.2L1798.5,647.5L1802.8,641.8L1804.2,634.2L1809.8,629.8L1810.8,628.5L1811.8,624.2L1807.5,622.5L1805.5,621.2L1806.2,620.2L1809.2,618.2L1806.2,617.8L1807.8,613.8L1814.8,607.8L1824.2,601.2L1825.5,591.2L1830.8,586.8L1839.5,592.8L1842.8,593.5L1843.2,593.8L1843.2,599.2L1845.8,597.2L1853.2,602.5L1864.5,603.5L1870.8,604.5L1872.2,605.2L1871.2,608.2L1870.2,609.2L1860.5,612.5L1851.8,616.2L1853.2,620.2L1860.5,622.5L1868.5,622.5L1873.5,617.5L1876.2,611.2L1881.2,604.8L1891.2,603.5L1895.5,606.8L1901.2,612.5L1905.5,609.5L1908.8,603.5L1913.2,602.5L1914.5,603.2L1918.5,608.2L1924.2,612.5L1933.2,612.5L1941.2,614.8L1948.2,620.2L1952.5,616.8L1953.2,615.5L1951.8,608.8L1945.5,602.5L1946.8,596.2L1952.8,593.2L1964.5,591.2L1974.2,586.2L1981.8,580.8L1987.5,575.8L1993.5,569.5L1998.8,562.8L2002.5,555.5L1997.2,550.5L1990.5,548.5L1989.8,547.8L1991.2,540.2L1993.5,534.2L1999.8,530.5L1997.2,525.2L1994.8,524.2L1991.5,521.2L1991.2,518.5L1991.5,517.5L1990.2,510.8L1989.8,506.5L1991.2,498.8L1997.5,494.5L2001.2,488.5L2003.5,478.2L2001.5,472.8L2000.5,471.8L1995.2,469.8L1985.8,470.8L1980.8,467.2L1983.2,462.5L1989.8,455.8L1991.2,446.8L1996.2,442.8L2001.2,436.8ZM1634.5,640.8L1635.2,645.8L1633.5,646.5L1629.8,646.8L1629.2,645.2L1628.8,641.8L1630.8,641.2ZM1644.5,632.2L1645.2,633.8L1645.5,637.2L1642.8,637.8L1640.5,637.8L1639.8,636.2L1639.5,633.2L1641.2,632.5ZM1904.8,597.5L1905.5,602.5L1903.8,603.2L1900.2,603.5L1899.5,601.8L1899.2,598.5L1901.2,597.8ZM1621.8,569.8L1622.5,575.2L1620.8,575.8L1617.2,576.2L1616.5,574.5L1616.2,570.8L1618.2,570.2ZM1975.2,569.2L1975.8,571.2L1976.2,575.2L1974.2,575.8L1970.2,576.2L1969.5,574.2L1969.2,570.2L1971.2,569.5ZM1598.5,544.2L1599.8,547.2L1599.5,547.8L1592.5,549.2L1591.5,548.8L1590.5,545.5L1590.8,544.5L1596.5,543.8ZM1931.8,402.2L1931.8,405.8L1931.5,406.2L1927.5,406.2L1927.2,406.5L1922.8,406.5L1922.5,406.2L1921.8,403.2L1922.2,401.8L1930.5,401.2L1930.8,401.8ZM1880.2,337.2L1880.8,343.2L1879.2,343.8L1876.2,344.2L1875.5,338.2L1877.2,337.5ZM1791.8,312.8L1792.2,312.5L1798.5,312.5L1798.8,312.8L1798.8,318.8L1798.5,319.2L1792.2,319.2L1791.8,318.8Z"/>
<path fill="#f90000" fill-rule="evenodd" d="M1985.5,441.5L1977.8,438.2L1972.8,432.5L1960.2,434.5L1956.8,434.2L1955.5,432.8L1952.8,426.8L1952.8,424.2L1955.2,419.2L1955.5,416.8L1953.8,416.5L1948.5,416.8L1947.8,416.5L1942.5,410.5L1942.5,406.8L1943.2,405.5L1935.5,402.8L1934.5,405.2L1934.5,406.8L1933.2,408.5L1928.2,409.2L1922.5,409.2L1920.2,406.8L1919.2,404.2L1919.2,401.2L1920.5,399.5L1927.5,398.8L1929.2,398.2L1927.2,395.8L1923.2,392.8L1912.5,391.5L1906.5,388.8L1905.2,387.5L1904.5,385.8L1903.8,379.8L1903.2,378.2L1903.2,374.8L1905.2,371.2L1908.8,368.2L1907.2,366.5L1904.8,360.8L1904.8,352.5L1900.5,347.8L1894.8,343.2L1888.8,339.5L1885.2,338.8L1884.5,341.8L1883.5,342.5L1883.5,344.2L1881.5,346.2L1878.2,346.8L1875.2,346.8L1873.5,345.5L1872.8,341.8L1872.8,337.2L1874.2,335.5L1877.2,334.8L1879.5,333.5L1879.8,328.2L1878.8,325.5L1877.8,324.5L1873.5,325.8L1872.5,326.8L1867.2,329.5L1864.8,329.5L1859.8,324.8L1857.2,317.2L1853.2,313.2L1841.2,312.5L1838.8,311.8L1828.5,311.8L1822.8,306.5L1818.8,304.8L1818.2,304.8L1812.8,308.5L1805.5,311.5L1802.2,311.8L1800.8,310.8L1801.5,311.8L1801.5,319.2L1799.2,321.8L1791.2,321.8L1789.2,319.8L1789.2,311.8L1789.5,311.2L1791.2,309.8L1799.5,309.8L1799.8,310.2L1789.8,302.2L1784.8,298.8L1784.2,298.8L1779.5,302.2L1772.8,304.2L1770.5,304.2L1764.5,299.8L1763.2,299.5L1765.2,301.8L1765.2,304.5L1764.5,307.8L1763.8,309.2L1762.2,310.5L1759.8,310.5L1755.2,309.5L1747.8,305.5L1743.5,305.2L1737.5,304.2L1726.2,304.2L1720.8,308.5L1719.8,313.8L1716.5,319.5L1714.8,321.5L1712.8,322.2L1704.2,323.2L1695.5,328.2L1685.2,329.5L1685.5,331.8L1680.8,338.2L1675.8,340.5L1674.8,341.5L1677.8,343.2L1679.2,344.5L1681.2,348.8L1681.5,352.5L1676.5,356.5L1670.8,362.2L1665.2,369.2L1659.5,373.5L1641.5,378.2L1629.8,383.8L1619.8,386.5L1617.5,386.5L1612.5,382.8L1605.8,376.2L1602.5,376.2L1598.2,377.2L1597.8,377.8L1598.2,380.2L1602.8,389.2L1606.8,399.2L1607.5,403.8L1608.5,406.8L1612.5,411.8L1612.5,413.8L1609.8,419.2L1606.2,421.8L1607.8,424.8L1613.2,430.2L1613.5,432.8L1608.5,438.2L1601.5,442.5L1594.8,449.2L1584.5,452.2L1581.5,452.2L1577.2,451.2L1573.2,451.8L1571.5,451.2L1566.2,457.2L1569.2,461.5L1570.5,465.8L1572.2,466.8L1573.5,468.8L1574.8,468.5L1576.5,469.8L1579.8,469.5L1586.8,470.8L1594.2,475.8L1608.2,475.8L1619.5,477.2L1621.2,478.5L1624.8,485.2L1624.2,493.5L1623.5,495.5L1612.8,508.5L1609.5,515.5L1608.5,516.5L1605.2,517.8L1599.2,518.2L1597.8,517.5L1601.5,524.2L1601.2,531.5L1599.5,533.8L1596.5,534.5L1594.2,536.8L1590.5,538.5L1592.2,539.2L1590.8,540.5L1590.5,541.8L1595.5,541.2L1599.8,541.5L1600.8,542.5L1602.5,546.2L1602.2,549.2L1601.2,550.2L1599.5,550.8L1593.5,551.8L1590.8,551.8L1589.2,550.5L1588.8,549.5L1588.2,553.2L1593.2,558.2L1592.8,559.2L1593.5,560.2L1593.5,562.2L1591.8,568.5L1594.2,573.8L1595.5,575.5L1602.5,581.2L1611.8,583.8L1619.5,585.2L1622.5,587.2L1626.5,588.2L1630.2,590.5L1636.2,595.5L1636.8,598.5L1636.8,602.5L1637.5,606.8L1637.5,615.8L1636.8,619.2L1636.2,627.5L1634.2,630.5L1629.8,629.8L1626.2,630.5L1609.5,631.8L1602.8,637.2L1598.5,641.5L1597.8,643.2L1599.8,644.5L1612.2,648.2L1621.8,653.2L1630.5,653.8L1634.2,652.8L1636.8,652.8L1642.5,658.5L1648.5,657.2L1654.8,654.5L1684.2,654.5L1692.5,655.5L1698.2,661.2L1704.8,663.2L1714.2,664.2L1716.2,664.8L1721.8,670.5L1725.8,673.5L1748.5,673.5L1752.5,669.2L1755.8,662.2L1757.2,660.8L1764.5,656.5L1767.5,655.2L1786.8,650.5L1796.2,645.8L1799.2,641.2L1799.5,638.2L1801.8,632.5L1807.8,627.2L1808.2,626.2L1807.2,625.2L1804.5,624.2L1802.8,622.2L1803.5,616.5L1805.5,612.2L1813.2,605.5L1821.5,599.5L1822.5,591.5L1823.2,589.5L1829.8,584.2L1831.8,584.2L1841.2,590.5L1842.8,590.8L1843.2,593.2L1844.5,591.8L1845.2,591.8L1845.8,592.8L1845.8,594.5L1848.2,595.2L1854.2,599.8L1865.5,600.8L1871.8,601.8L1873.5,602.5L1874.8,604.2L1874.8,606.2L1873.8,608.5L1874.2,608.8L1879.5,602.5L1881.5,601.8L1892.2,600.8L1897.5,604.8L1896.5,600.5L1896.5,597.5L1897.2,596.8L1905.8,594.8L1907.8,596.8L1908.2,600.8L1912.2,599.8L1915.5,600.2L1920.2,605.8L1925.5,609.8L1934.2,609.8L1942.2,612.2L1945.8,614.5L1948.5,614.8L1948.8,614.5L1948.8,610.2L1942.8,603.5L1942.8,600.8L1944.5,594.5L1945.5,593.5L1951.8,590.5L1963.5,588.5L1973.5,583.2L1981.5,577.5L1989.5,569.8L1996.5,561.2L1998.8,556.5L1998.8,555.8L1995.5,552.8L1989.5,551.2L1987.2,548.8L1988.2,540.5L1990.5,533.8L1992.2,531.5L1995.8,529.5L1995.2,527.5L1991.5,525.2L1988.8,522.2L1988.5,516.5L1987.2,509.5L1987.2,505.5L1988.2,499.2L1988.8,497.2L1989.8,496.2L1995.2,492.8L1998.5,487.5L2000.5,478.5L1998.8,475.2L1995.2,472.8L1984.8,473.5L1979.5,469.8L1978.2,468.2L1978.2,466.2L1984.8,453.5L1984.2,444.5ZM1646.2,629.8L1647.2,630.8L1647.8,632.8L1648.2,638.2L1646.8,639.8L1644.2,640.2L1639.5,642.5L1639.8,643.2L1639.5,647.5L1638.5,649.8L1637.5,650.8L1636.2,650.8L1632.5,649.5L1628.2,649.2L1627.2,648.2L1626.2,643.8L1626.5,640.2L1628.2,638.8L1636.5,637.8L1635.8,632.5L1638.2,630.5L1642.5,629.5ZM1623.5,567.5L1624.8,569.2L1625.2,571.8L1624.8,576.8L1623.8,577.8L1621.8,578.5L1619.2,578.8L1615.5,578.5L1614.5,577.5L1613.8,575.5L1613.5,572.8L1613.8,569.2L1614.8,568.2L1619.8,567.2ZM1976.8,566.8L1977.8,567.8L1978.8,572.8L1978.5,576.8L1977.5,577.8L1972.5,578.8L1968.5,578.5L1967.5,577.5L1966.5,572.5L1966.8,568.5L1967.8,567.5L1972.8,566.5Z"/>
<path fill="#ffa500" fill-rule="evenodd" d="M1630.8,633.2L1624.2,631.8L1610.5,633.2L1603.2,637.2L1603.2,643.2L1612.8,646.8L1615.2,646.8L1621.5,650.2L1623.5,649.8L1624.8,648.8L1623.8,645.5L1625.8,643.5L1626.5,640.2L1627.5,639.2L1629.2,638.8ZM1896.2,344.5L1883.5,342.5L1883.5,344.2L1882.2,345.8L1878.2,346.8L1875.2,346.8L1873.5,345.5L1873.2,343.5L1872.2,343.8L1870.5,343.5L1870.2,341.5L1870.5,335.5L1869.5,331.2L1866.8,332.2L1863.2,331.5L1856.8,324.2L1854.5,318.2L1844.5,317.8L1842.2,315.2L1841.2,314.8L1829.5,314.2L1821.8,308.8L1818.8,307.5L1816.2,309.2L1814.5,309.2L1805.5,314.2L1804.5,314.2L1804.2,315.8L1799.2,321.8L1791.2,323.8L1785.2,323.2L1784.5,317.2L1787.5,313.2L1794.2,306.5L1790.2,305.5L1784.8,301.8L1784.2,301.8L1780.5,304.5L1772.5,306.8L1769.5,306.5L1767.5,305.2L1766.8,308.8L1766.2,310.2L1763.2,312.8L1760.2,313.2L1757.8,312.5L1756.8,313.5L1755.5,318.2L1751.2,321.2L1750.2,324.5L1749.2,325.5L1748.5,325.5L1746.5,323.8L1737.2,325.8L1731.5,318.5L1730.2,314.2L1730.2,311.8L1729.5,310.2L1729.5,306.8L1726.5,306.8L1723.5,309.2L1721.8,315.5L1718.2,321.5L1715.8,323.8L1712.5,324.8L1705.2,325.5L1696.5,330.5L1687.8,331.8L1687.8,332.8L1686.2,335.5L1677.8,342.2L1680.5,345.8L1681.8,353.5L1676.2,358.8L1674.2,362.2L1669.5,368.2L1666.2,371.5L1661.8,374.8L1657.5,376.8L1649.2,378.5L1640.5,381.2L1630.8,386.2L1619.5,389.2L1615.8,388.5L1611.5,385.2L1607.5,381.2L1603.2,384.5L1605.2,388.2L1609.2,398.2L1610.8,405.8L1614.5,410.2L1615.2,412.2L1614.8,414.8L1612.5,419.2L1612.5,426.2L1615.5,429.2L1616.2,431.2L1615.8,433.8L1614.2,436.2L1620.5,437.5L1621.5,438.2L1622.8,444.8L1623.2,451.2L1616.5,453.5L1602.5,453.5L1593.5,452.2L1585.5,454.5L1583.8,454.5L1577.8,453.2L1568.5,455.5L1567.8,456.2L1570.5,465.8L1576.5,469.8L1579.8,469.5L1586.2,470.8L1590.8,470.8L1591.2,470.5L1594.8,473.2L1605.8,473.2L1609.5,474.8L1622.2,476.2L1627.5,486.2L1626.5,494.5L1625.8,496.5L1615.2,509.5L1611.8,516.5L1610.2,518.2L1610.2,519.5L1611.2,522.2L1613.2,524.8L1611.2,527.8L1601.2,531.5L1599.5,533.8L1596.5,534.5L1590.8,540.5L1590.5,541.8L1595.5,541.2L1599.8,541.5L1600.8,542.5L1602.5,546.2L1602.2,549.2L1601.2,550.2L1599.5,550.8L1593.5,551.8L1590.8,551.8L1589.2,550.5L1588.8,549.5L1588.2,553.2L1593.2,558.2L1592.8,559.2L1593.5,560.2L1593.5,562.2L1591.8,568.5L1594.8,574.8L1602.5,581.2L1608.2,582.5L1610.5,583.5L1621.5,585.8L1628.2,582.8L1629.8,587.2L1635.8,591.8L1638.5,594.5L1639.5,598.8L1639.5,602.8L1640.2,607.2L1640.2,615.5L1639.5,621.5L1642.8,626.8L1646.5,627.2L1649.5,629.8L1650.8,635.5L1650.5,638.8L1651.2,639.8L1651.2,642.2L1650.2,646.2L1650.5,647.2L1649.8,647.8L1645.8,648.2L1638.5,650.8L1643.5,657.2L1651.5,655.8L1659.8,651.8L1687.2,652.2L1693.8,655.5L1700.5,660.8L1712.2,662.2L1721.8,667.2L1726.2,670.8L1747.5,670.8L1750.2,668.2L1752.8,662.5L1756.2,658.5L1763.5,654.2L1766.5,652.8L1784.8,648.5L1790.5,645.8L1791.2,642.8L1789.2,636.5L1791.5,633.5L1800.8,624.2L1800.2,620.2L1800.8,618.5L1801.2,615.5L1803.2,611.2L1812.2,603.2L1819.2,598.2L1819.5,594.8L1821.8,589.8L1829.5,583.2L1838.2,585.2L1843.2,588.5L1843.2,593.2L1844.5,591.8L1846.2,591.2L1855.8,597.5L1862.2,597.8L1871.5,599.2L1874.5,600.2L1876.5,602.2L1878.5,600.2L1888.5,601.2L1892.8,598.8L1893.8,598.8L1894.2,598.2L1896.2,597.2L1907.2,594.8L1909.8,595.5L1910.5,597.8L1912.5,597.2L1915.2,597.5L1925.8,607.2L1933.8,607.2L1940.2,609.2L1941.2,608.5L1942.2,606.5L1940.8,605.2L1940.2,603.2L1940.8,598.5L1938.8,592.8L1942.2,591.2L1945.5,590.8L1950.8,588.2L1962.5,586.2L1964.2,585.2L1962.8,578.2L1959.2,571.2L1956.5,562.2L1958.8,552.5L1960.5,551.2L1976.8,546.5L1982.2,547.5L1984.8,544.2L1986.2,538.2L1988.8,531.5L1991.2,529.2L1992.2,528.8L1986.8,523.8L1986.2,521.8L1985.8,516.2L1984.5,509.2L1984.5,505.8L1985.5,499.5L1987.5,495.2L1988.8,493.8L1993.5,490.8L1996.2,486.5L1996.5,484.5L1999.8,480.8L1997.2,474.8L1986.8,474.8L1985.2,475.8L1982.2,475.2L1980.8,476.5L1969.5,476.5L1969.2,476.2L1969.2,467.2L1971.2,466.5L1974.8,466.2L1975.5,463.8L1975.2,461.5L1980.8,455.8L1983.5,446.2L1977.2,438.2L1967.5,437.2L1966.5,436.2L1959.8,437.2L1957.8,437.2L1955.8,436.5L1953.2,433.8L1950.2,426.5L1950.5,423.5L1939.8,420.8L1934.5,420.5L1934.2,417.8L1931.2,416.2L1932.2,414.5L1932.5,412.8L1932.2,411.5L1925.5,411.8L1920.2,406.8L1919.5,405.2L1918.5,404.2L1917.2,400.8L1917.2,399.5L1919.5,397.2L1921.8,396.5L1921.2,395.2L1911.5,393.8L1905.5,391.2L1902.8,388.5L1902.2,386.5L1892.2,384.8L1893.8,383.8L1896.2,373.5L1892.8,369.8L1897.8,363.8L1898.5,361.2L1897.8,358.5L1901.2,353.5ZM1623.5,566.5L1626.5,574.2L1624.8,576.8L1621.2,579.8L1613.5,578.8L1612.8,577.8L1610.5,568.2L1612.5,567.5ZM1623.2,564.8L1624.5,565.2L1626.8,567.5L1627.5,569.5L1627.2,570.5L1622.8,565.5ZM1935.2,552.2L1937.5,552.5L1939.2,554.8L1938.5,556.5L1936.8,557.8L1935.2,557.8L1933.5,556.5L1932.8,555.2L1933.2,553.8ZM1619.2,463.8L1620.5,463.8L1621.8,465.5L1621.5,466.8L1620.5,467.8L1619.2,467.8L1617.8,466.2L1618.2,464.8ZM1960.2,454.2L1961.8,454.5L1963.2,456.5L1961.2,458.8L1960.2,458.8L1958.2,456.5L1958.5,455.5Z"/>
<path fill="#f3e500" fill-rule="evenodd" d="M1623.5,640.5L1618.2,636.8L1610.8,638.2L1613.2,644.5L1620.8,644.5ZM1822.2,309.2L1814.5,309.2L1805.8,313.8L1799.2,321.8L1787.2,324.5L1781.2,323.5L1780.5,322.5L1787.5,313.2L1794.2,306.5L1785.2,304.2L1773.2,308.2L1758.2,319.8L1757.2,321.2L1755.2,328.2L1748.8,333.2L1742.5,328.2L1735.2,328.2L1731.2,320.8L1729.8,310.5L1724.8,310.5L1717.2,323.2L1691.5,333.2L1684.2,336.8L1677.8,342.2L1680.5,345.8L1681.8,353.5L1676.2,358.8L1671.8,365.8L1663.8,373.8L1652.5,379.5L1641.5,383.8L1618.5,390.2L1610.8,386.2L1607.2,388.8L1610.8,399.2L1614.2,403.8L1616.8,409.5L1618.5,418.5L1618.5,431.8L1622.2,438.2L1623.5,452.8L1622.5,453.5L1616.8,454.5L1606.8,454.2L1606.5,453.8L1593.2,454.5L1588.2,457.2L1599.5,470.8L1609.5,474.8L1622.2,476.2L1627.5,486.2L1626.2,496.2L1620.8,504.2L1615.5,514.5L1615.8,517.8L1616.5,519.5L1618.8,522.5L1619.5,525.8L1610.8,540.5L1608.5,550.5L1613.5,558.2L1623.2,562.8L1631.2,570.8L1633.5,580.2L1637.8,591.8L1640.8,602.8L1643.5,610.5L1643.5,613.5L1644.8,617.8L1644.5,618.2L1646.8,622.5L1652.5,629.2L1657.5,639.2L1656.2,646.8L1661.2,651.8L1671.5,651.2L1671.8,650.8L1686.5,651.8L1693.8,655.5L1700.5,660.8L1712.2,662.2L1720.2,666.2L1725.8,669.8L1735.5,670.8L1748.5,669.8L1751.8,663.8L1757.5,656.8L1768.2,651.5L1776.8,648.5L1785.2,643.2L1782.5,635.5L1786.8,629.8L1795.2,621.2L1797.5,619.2L1799.5,618.2L1795.8,618.2L1795.5,617.8L1797.2,615.5L1805.8,605.5L1817.8,598.5L1821.8,589.8L1829.5,583.2L1839.5,585.5L1842.8,585.8L1843.2,586.2L1843.2,593.2L1844.5,591.8L1846.2,591.2L1851.5,593.8L1861.8,596.8L1873.8,599.5L1888.5,601.2L1896.2,597.2L1907.2,594.8L1913.8,596.2L1919.2,601.5L1926.5,606.2L1936.5,604.8L1934.8,598.8L1931.5,589.8L1940.2,585.5L1952.2,583.5L1963.2,579.5L1955.5,563.5L1956.8,553.2L1965.8,548.5L1977.2,544.2L1982.5,537.5L1987.2,530.5L1986.5,525.8L1980.8,515.8L1979.5,514.5L1979.5,513.5L1981.8,504.5L1986.8,496.8L1991.2,487.5L1986.8,482.2L1985.2,480.8L1976.2,478.2L1966.8,476.5L1965.8,475.8L1966.8,470.5L1969.5,463.5L1959.8,462.2L1956.8,456.2L1959.8,447.5L1961.8,439.5L1952.5,437.2L1951.5,436.2L1949.2,429.2L1939.8,426.8L1914.2,425.5L1911.5,420.5L1926.5,412.8L1920.2,406.8L1919.5,405.2L1918.5,404.2L1916.5,398.8L1909.5,394.2L1907.8,393.5L1894.8,391.2L1886.2,390.2L1877.2,381.2L1878.5,374.8L1885.5,369.2L1892.5,361.2L1888.5,355.8L1877.5,362.8L1866.2,368.5L1865.5,366.8L1865.5,363.8L1864.5,357.2L1865.8,341.5L1863.5,331.8L1857.2,324.5L1851.2,326.8L1845.8,327.5L1837.8,319.5L1834.2,314.8L1829.5,314.2ZM1935.2,552.2L1937.5,552.5L1939.2,554.8L1938.5,556.5L1936.8,557.8L1935.2,557.8L1933.5,556.5L1932.8,555.2L1933.2,553.8ZM1619.2,463.8L1620.5,463.8L1621.8,465.5L1621.5,466.8L1620.5,467.8L1619.2,467.8L1617.8,466.2L1618.2,464.8Z"/>
<path fill="#a1ff00" fill-rule="evenodd" d="M1606.5,463.5L1604.8,464.8L1604.5,466.2L1605.2,467.5L1606.5,468.2L1608.2,468.2L1609.2,467.5L1609.8,465.8L1608.5,463.8ZM1787.8,305.5L1781.5,306.5L1774.8,313.2L1765.5,330.5L1755.5,335.8L1741.2,335.8L1734.5,334.8L1731.5,334.8L1727.5,333.8L1719.8,330.8L1718.8,330.8L1709.2,333.2L1699.8,336.8L1690.5,337.8L1685.8,339.8L1681.8,342.2L1685.5,345.8L1688.2,353.2L1687.8,354.2L1683.2,360.8L1667.2,376.8L1660.8,381.5L1652.2,383.5L1643.5,386.8L1628.8,391.5L1618.5,393.8L1617.5,399.8L1620.5,406.2L1620.5,408.8L1618.2,415.5L1618.5,429.2L1626.2,431.8L1631.2,438.2L1631.2,451.5L1628.5,462.8L1628.5,476.5L1631.2,485.8L1631.2,496.2L1626.5,503.5L1621.2,508.8L1620.2,516.5L1622.2,520.8L1622.2,521.8L1622.8,522.5L1623.2,524.5L1618.5,546.2L1620.8,553.8L1621.8,554.8L1631.5,558.2L1640.8,562.8L1641.5,563.8L1643.8,572.2L1638.8,578.5L1640.2,588.8L1645.2,600.8L1646.2,607.5L1647.5,612.5L1650.2,616.5L1651.2,620.8L1662.2,642.5L1663.8,646.8L1672.8,648.2L1684.5,648.2L1694.2,651.8L1700.5,657.2L1710.5,657.2L1716.5,660.5L1722.2,665.2L1724.5,666.2L1733.5,667.2L1742.8,664.8L1744.2,663.8L1747.8,658.8L1754.8,651.8L1765.5,646.5L1775.2,643.2L1780.2,636.8L1778.8,630.5L1785.5,623.8L1787.8,620.5L1793.5,618.2L1785.8,618.2L1785.5,617.8L1791.2,612.8L1799.5,602.8L1811.5,596.2L1817.5,586.2L1818.5,585.2L1829.5,579.2L1842.8,580.8L1843.2,581.2L1843.2,586.8L1843.8,585.8L1846.2,584.5L1863.2,591.2L1873.8,591.8L1888.8,593.5L1900.8,589.8L1914.2,589.8L1930.5,583.5L1932.8,575.8L1927.8,569.5L1925.2,561.2L1927.8,554.5L1929.8,551.5L1939.2,546.8L1953.2,546.8L1959.8,545.8L1962.8,545.8L1976.5,542.2L1977.8,541.2L1982.8,535.2L1983.8,532.5L1984.5,525.5L1983.5,523.2L1981.2,520.5L1977.2,514.5L1977.2,513.5L1979.2,505.8L1984.5,498.2L1988.5,490.2L1986.2,485.2L1977.5,481.2L1966.8,477.2L1960.5,470.5L1956.2,462.2L1953.2,454.5L1943.5,452.2L1934.8,448.5L1933.8,447.5L1930.2,440.2L1920.5,433.5L1912.2,426.5L1903.5,410.8L1901.5,409.5L1894.2,401.5L1890.8,399.2L1888.2,394.8L1878.8,389.2L1870.5,380.8L1860.8,366.2L1859.5,356.8L1860.8,345.5L1858.2,335.8L1850.8,330.8L1844.8,330.8L1839.5,329.5L1836.8,328.2L1834.2,327.5L1826.5,327.2L1810.5,325.5L1786.2,328.2L1777.2,325.8L1776.8,324.8L1779.8,320.8L1784.2,317.5L1787.5,313.2L1791.5,309.2ZM1659.8,626.8L1668.2,624.5L1677.2,626.8L1678.2,627.5L1679.2,633.2L1672.5,637.2L1663.8,635.8ZM1750.8,626.8L1758.2,623.8L1768.8,625.2L1774.2,630.5L1767.5,635.2L1757.2,634.2ZM1977.2,526.2L1979.8,532.8L1973.2,535.8L1969.2,527.8L1970.5,527.2Z"/>
<path fill="#00ec00" fill-rule="evenodd" d="M1678.8,644.5L1677.8,640.5L1665.2,641.8L1666.5,645.8ZM1685.5,340.8L1686.8,345.8L1690.5,348.5L1695.5,345.8L1696.8,340.8ZM1834.5,330.2L1827.8,329.8L1827.5,329.5L1799.2,329.5L1792.5,330.5L1789.5,330.5L1774.8,333.2L1762.8,338.2L1751.2,339.5L1736.5,338.2L1724.5,340.8L1715.2,344.2L1707.5,351.5L1702.5,357.5L1698.2,366.2L1687.2,373.2L1675.5,384.8L1667.8,391.5L1665.2,393.2L1656.8,396.5L1648.8,395.2L1642.5,390.2L1638.5,394.2L1636.2,399.2L1633.5,401.5L1630.8,407.2L1628.5,410.5L1628.5,412.8L1634.2,418.2L1640.8,422.5L1641.5,424.2L1642.5,433.2L1638.8,440.2L1634.8,450.5L1634.8,464.2L1637.2,475.2L1640.2,485.8L1641.2,497.8L1640.2,506.5L1635.2,513.5L1633.2,514.2L1625.2,514.8L1624.8,515.5L1623.8,515.8L1623.8,516.8L1625.2,519.8L1629.5,523.8L1630.8,525.8L1629.8,534.5L1632.5,544.2L1641.5,550.8L1651.2,556.5L1651.8,557.8L1653.8,568.5L1650.2,578.2L1648.8,591.5L1652.2,602.8L1655.5,609.5L1658.2,612.2L1668.2,617.2L1673.8,618.8L1678.5,621.2L1685.5,629.5L1688.8,636.5L1695.5,644.5L1705.5,644.5L1713.8,638.5L1724.2,634.2L1724.8,634.8L1726.8,641.5L1724.5,651.2L1728.2,658.2L1736.8,662.2L1749.8,649.5L1759.8,645.8L1764.8,639.5L1757.5,636.8L1748.8,635.5L1748.2,634.5L1747.2,628.5L1747.8,627.2L1754.8,621.5L1765.2,621.5L1773.8,624.2L1777.5,620.5L1783.2,618.2L1776.5,618.2L1776.2,617.8L1785.2,611.2L1816.2,580.2L1828.2,574.2L1842.8,575.8L1843.2,576.2L1843.2,583.8L1843.8,582.8L1846.2,581.5L1863.2,588.5L1872.2,585.8L1878.5,578.5L1893.8,588.5L1902.2,585.5L1914.2,583.5L1924.2,578.5L1926.5,570.5L1922.8,562.8L1926.5,553.2L1934.2,545.5L1945.2,540.5L1951.8,538.2L1958.5,535.2L1964.2,526.2L1968.5,522.8L1970.2,520.8L1971.5,517.2L1972.2,513.5L1983.5,488.8L1965.8,479.8L1958.8,474.2L1953.5,466.5L1950.5,458.2L1932.2,451.2L1931.2,450.2L1927.8,443.2L1918.5,436.2L1908.2,427.2L1900.8,417.5L1896.2,409.8L1894.8,408.8L1891.8,404.5L1883.2,398.5L1873.5,393.8L1865.5,385.8L1859.8,376.8L1858.2,371.2L1855.8,356.8L1857.2,346.8L1854.5,339.5L1848.5,342.2L1845.8,341.8L1840.8,336.8L1838.8,333.5L1836.8,331.5ZM1911.5,570.2L1913.8,570.2L1915.8,571.8L1916.5,573.5L1915.8,576.2L1913.8,577.5L1911.5,577.5L1910.2,576.8L1909.2,575.5L1908.8,574.2L1909.2,572.5ZM1724.5,349.5L1731.5,347.5L1742.5,348.2L1745.2,350.8L1744.2,351.5L1737.5,353.2L1734.8,353.2L1734.5,352.8L1727.2,352.5Z"/>
<path fill="#00bc00" fill-rule="evenodd" d="M1737.2,641.8L1743.5,648.2L1748.8,650.5L1750.5,649.2L1757.2,646.8L1762.5,642.5L1755.2,640.5L1747.5,640.2L1747.2,639.8L1744.5,639.8ZM1805.5,334.5L1792.2,333.2L1781.2,335.5L1768.8,340.2L1756.5,347.8L1742.8,353.5L1730.5,355.8L1719.2,355.8L1710.2,358.2L1709.2,358.8L1699.8,373.2L1688.2,384.8L1678.8,392.8L1668.2,399.5L1658.8,401.5L1651.2,404.2L1646.5,405.2L1643.8,405.2L1639.8,406.5L1632.5,410.5L1631.2,412.5L1632.5,413.2L1640.8,414.2L1645.2,422.5L1645.2,436.2L1642.5,450.2L1642.5,476.8L1645.2,487.8L1645.2,502.5L1643.8,513.8L1643.2,514.5L1639.5,515.8L1636.5,518.2L1635.5,520.2L1635.5,522.2L1637.2,524.8L1638.2,525.5L1640.8,531.2L1651.2,537.5L1659.2,547.2L1664.2,556.8L1661.5,568.2L1653.8,580.8L1653.8,591.5L1658.5,600.8L1666.5,608.8L1677.2,611.8L1684.2,615.8L1689.2,621.5L1692.8,630.5L1701.5,634.2L1712.2,631.8L1723.2,626.2L1738.2,620.5L1746.8,619.2L1752.5,617.5L1762.5,616.2L1768.2,613.5L1775.2,608.8L1780.2,598.5L1788.5,587.8L1797.8,580.8L1811.8,573.8L1822.8,569.5L1832.8,567.8L1835.5,568.2L1840.5,571.2L1845.8,577.5L1863.2,584.8L1870.5,581.2L1878.5,575.8L1885.8,578.5L1890.5,579.5L1891.8,579.2L1898.2,574.8L1907.2,570.5L1913.5,566.2L1918.8,555.5L1925.2,548.2L1934.2,539.2L1946.2,533.8L1954.2,528.2L1956.5,525.5L1961.2,522.8L1963.2,520.8L1964.5,517.2L1966.8,514.5L1967.8,509.5L1973.5,500.8L1977.2,493.8L1959.5,484.8L1952.5,479.2L1951.5,477.8L1946.8,463.5L1939.8,458.5L1931.2,454.8L1930.2,453.8L1928.5,447.5L1927.5,445.5L1914.5,436.5L1902.2,426.5L1894.2,416.2L1890.8,410.2L1888.2,407.5L1886.5,404.8L1883.2,401.2L1879.5,399.5L1878.5,399.5L1863.8,390.5L1855.8,381.2L1851.8,371.2L1844.8,362.5L1844.5,361.5L1842.5,359.5L1838.5,357.5L1832.8,357.8L1828.2,357.2L1818.5,351.2L1811.2,341.2ZM1826.2,366.2L1826.2,369.8L1825.8,370.2L1822.5,370.2L1822.2,370.5L1818.8,370.5L1817.8,367.5L1818.2,366.5L1824.2,365.8Z"/>
<path fill="#00a13d" fill-rule="evenodd" d="M1803.2,338.2L1789.8,336.8L1777.5,339.5L1767.5,344.5L1760.2,350.8L1750.2,355.8L1737.5,359.8L1724.2,361.2L1714.5,363.5L1709.8,370.8L1702.5,380.5L1691.5,391.8L1680.2,399.8L1670.8,402.2L1668.5,403.2L1660.8,404.8L1655.2,407.8L1652.2,410.8L1653.8,418.5L1653.8,432.2L1650.5,442.8L1647.5,456.5L1647.5,471.5L1650.5,483.8L1653.8,494.5L1652.2,509.8L1652.2,513.5L1651.2,517.2L1651.2,521.2L1651.5,522.5L1654.8,525.8L1666.2,542.2L1671.5,552.8L1669.2,566.2L1664.2,578.2L1664.2,579.2L1666.5,588.5L1674.2,596.2L1683.8,600.8L1691.5,605.8L1696.2,609.5L1696.5,614.5L1695.5,617.5L1693.5,621.2L1694.8,623.5L1701.8,629.2L1712.2,627.8L1755.2,606.2L1762.5,598.5L1767.2,588.8L1774.5,579.2L1777.2,577.5L1788.5,572.8L1814.2,565.5L1825.2,563.2L1834.5,562.5L1839.8,566.2L1843.2,569.8L1845.8,573.8L1851.5,576.2L1863.5,579.5L1870.2,574.8L1878.2,570.8L1888.5,569.5L1896.2,563.2L1907.2,557.8L1916.2,552.2L1931.8,533.8L1941.5,528.2L1943.5,525.5L1950.2,522.2L1952.2,520.2L1953.5,517.8L1954.8,514.2L1954.5,513.5L1958.2,505.2L1964.5,498.8L1961.5,493.5L1952.2,488.8L1945.5,482.2L1944.5,475.8L1941.8,465.8L1934.5,461.2L1926.5,454.5L1924.5,446.5L1923.8,445.5L1904.2,433.5L1895.8,426.5L1885.8,416.2L1881.2,406.2L1878.8,403.5L1876.5,401.8L1872.5,399.8L1869.5,399.2L1860.8,395.5L1851.2,392.5L1845.8,391.8L1837.8,380.5L1834.2,370.8L1825.2,364.2L1815.5,355.5L1810.8,346.2ZM1826.2,366.2L1826.2,369.8L1825.8,370.2L1822.5,370.2L1822.2,370.5L1818.8,370.5L1817.8,367.5L1818.2,366.5L1824.2,365.8Z"/>
<path fill="#00aaa5" fill-rule="evenodd" d="M1929.5,466.2L1921.2,459.2L1911.8,454.5L1899.5,451.2L1885.5,444.2L1876.5,438.5L1875.8,437.5L1873.8,429.8L1868.8,420.8L1859.5,414.8L1848.2,410.8L1846.2,410.5L1845.5,410.8L1836.5,409.2L1834.2,406.8L1832.5,406.2L1829.2,402.8L1827.8,400.5L1828.2,399.8L1826.2,396.8L1825.2,396.2L1805.5,391.5L1797.5,385.8L1790.8,382.5L1779.5,381.2L1771.2,379.2L1769.8,378.2L1767.5,371.2L1762.2,366.2L1754.8,368.5L1742.8,373.5L1732.5,376.5L1720.2,380.8L1709.8,387.2L1701.5,394.2L1694.2,398.8L1687.8,400.8L1678.2,402.5L1674.8,403.5L1670.5,405.5L1663.8,410.5L1660.2,416.5L1658.8,429.5L1656.5,437.8L1657.8,451.5L1655.2,462.8L1655.2,476.5L1658.8,485.8L1660.2,497.5L1659.8,501.5L1657.8,510.8L1657.5,516.5L1657.8,518.2L1659.5,521.5L1663.5,525.5L1666.2,531.2L1673.8,542.2L1674.5,543.8L1676.5,552.5L1675.5,566.5L1677.8,578.5L1688.8,585.5L1697.2,593.8L1701.8,602.5L1710.8,597.2L1719.2,598.5L1719.5,599.2L1717.2,608.8L1722.5,614.8L1722.2,615.2L1723.2,616.5L1729.2,611.8L1737.5,603.2L1748.5,595.5L1755.2,589.8L1757.2,581.5L1760.2,572.2L1768.2,567.8L1781.2,564.2L1802.8,559.8L1829.5,556.8L1834.2,556.8L1845.5,563.8L1851.5,563.2L1860.2,560.8L1879.8,558.5L1890.5,555.8L1900.5,552.2L1911.2,545.8L1916.2,538.2L1924.5,528.8L1928.5,523.2L1929.2,521.2L1926.8,518.2L1919.5,514.5L1913.5,508.5L1908.8,500.8L1911.8,493.5L1921.2,488.8L1931.5,481.2L1934.2,473.5ZM1912.5,516.2L1914.2,516.2L1916.2,518.8L1915.8,519.5L1916.2,520.5L1915.5,521.8L1914.2,522.8L1912.5,522.8L1911.2,522.2L1910.5,520.8L1910.5,518.2ZM1797.5,340.8L1792.2,341.5L1792.8,352.2L1797.5,352.2Z"/>
<path fill="#0090dd" fill-rule="evenodd" d="M1678.2,410.8L1671.8,443.5L1666.5,456.8L1664.2,470.2L1665.2,476.5L1669.2,494.2L1665.2,514.2L1669.2,519.2L1673.2,522.5L1677.8,525.2L1678.8,526.5L1680.5,531.8L1690.5,552.8L1688.2,563.5L1691.8,570.8L1702.5,576.2L1711.5,579.2L1722.8,584.8L1729.8,583.5L1737.2,575.8L1748.2,570.5L1754.5,566.2L1767.2,560.8L1779.5,558.2L1793.5,556.8L1804.8,554.5L1829.2,552.2L1834.5,551.2L1836.5,551.8L1837.5,551.5L1838.8,552.2L1841.2,552.2L1843.8,553.2L1844.2,552.8L1846.2,553.2L1856.5,548.8L1866.5,542.5L1875.8,539.2L1888.8,536.5L1898.8,531.5L1900.2,525.8L1905.2,521.2L1907.2,517.8L1907.5,514.8L1901.2,507.5L1899.8,501.8L1898.8,495.5L1900.8,487.2L1901.8,485.8L1911.5,481.2L1916.5,476.2L1920.2,468.5L1913.2,463.2L1891.8,457.5L1878.5,450.8L1870.5,442.8L1865.2,432.5L1855.8,425.5L1845.8,423.5L1841.2,417.2L1835.8,411.2L1832.2,410.5L1823.8,410.2L1822.2,409.5L1819.2,409.2L1812.2,406.8L1804.2,401.8L1798.5,399.5L1790.2,392.2L1783.5,387.8L1763.2,382.8L1755.2,377.5L1748.5,378.5L1736.8,381.2L1728.5,384.5L1716.5,390.5L1707.2,397.2L1704.8,399.5L1701.2,401.2L1694.8,402.8L1687.5,405.5L1681.2,408.5Z"/>
<path fill="#001cdd" fill-rule="evenodd" d="M1695.5,412.8L1690.5,425.2L1685.8,449.8L1684.2,453.2L1679.2,460.8L1676.8,471.2L1676.5,474.8L1677.5,481.5L1677.5,484.5L1680.5,496.5L1676.5,506.2L1674.2,514.5L1681.2,520.8L1684.2,522.8L1690.2,525.5L1694.8,530.8L1700.5,539.8L1701.8,549.2L1700.8,559.5L1709.2,563.2L1719.8,564.5L1725.8,566.8L1730.2,564.2L1742.2,558.2L1754.8,554.5L1778.8,551.8L1793.5,551.8L1805.8,549.2L1818.8,543.8L1828.2,537.8L1834.5,539.2L1835.2,540.2L1839.2,542.8L1845.2,544.5L1865.5,534.5L1875.8,528.2L1878.5,525.5L1880.5,524.8L1884.5,522.2L1886.8,518.8L1887.5,516.8L1887.5,514.2L1886.2,506.8L1888.5,495.5L1889.8,483.2L1886.2,474.8L1872.5,467.8L1864.2,461.5L1853.5,452.2L1845.5,442.8L1843.2,434.8L1840.8,429.8L1838.8,426.8L1835.8,424.2L1829.2,422.5L1817.8,421.5L1805.8,416.5L1794.5,413.2L1780.5,411.2L1778.8,406.8L1777.2,404.5L1775.2,402.8L1771.2,400.5L1768.2,399.5L1757.2,392.2L1748.8,387.5L1742.8,391.2L1734.5,399.2L1729.8,406.5L1722.5,403.8L1711.5,402.8L1701.8,405.2Z"/>
<path fill="#1800a7" fill-rule="evenodd" d="M1703.2,430.5L1702.2,439.2L1699.5,450.8L1694.5,460.5L1691.8,481.5L1695.5,491.2L1690.5,500.8L1686.8,511.8L1687.5,513.8L1688.5,514.8L1695.8,519.8L1701.2,522.5L1705.5,523.5L1712.5,526.2L1715.8,529.2L1722.8,537.2L1728.8,542.2L1731.2,543.5L1739.5,546.8L1750.5,549.2L1764.2,546.5L1767.2,546.5L1786.5,544.2L1800.8,544.2L1813.5,540.5L1822.8,536.5L1831.2,535.5L1836.5,537.8L1843.2,539.2L1859.5,525.2L1860.2,523.2L1864.8,516.2L1871.2,511.2L1878.5,501.2L1876.5,489.5L1871.2,478.8L1846.8,460.2L1845.5,458.8L1841.5,452.2L1836.8,446.5L1835.8,445.8L1835.5,444.8L1830.5,441.5L1816.8,434.8L1805.5,427.8L1792.5,429.2L1780.8,425.8L1770.2,420.5L1765.2,414.2L1755.5,410.2L1742.2,411.5L1729.5,415.5L1716.5,421.8Z"/>
<path fill="#7e008f" fill-rule="evenodd" d="M1709.2,457.8L1706.8,465.5L1710.5,492.5L1710.5,494.8L1714.2,505.8L1722.8,514.5L1726.2,515.8L1732.5,519.5L1736.2,523.8L1737.2,527.8L1745.2,530.8L1749.2,531.8L1752.2,531.8L1758.8,532.8L1773.2,531.5L1779.8,534.2L1788.2,535.5L1805.8,528.5L1816.5,525.5L1819.8,525.5L1827.8,527.8L1836.2,528.8L1839.5,527.8L1841.8,525.5L1843.2,524.8L1844.2,523.8L1845.5,520.2L1847.2,518.5L1851.8,515.2L1852.5,515.2L1859.5,508.8L1845.8,490.8L1842.5,482.2L1837.8,476.5L1835.5,472.5L1829.5,467.2L1817.8,455.5L1808.5,450.8L1797.8,446.8L1790.5,439.5L1767.5,436.8L1760.8,432.2L1752.5,429.2L1748.8,435.5L1742.8,438.2L1734.8,440.5L1729.8,446.8L1716.5,452.2L1709.8,456.8Z"/>
<path fill="#000000" fill-rule="evenodd" d="M1739.8,497.5L1742.8,502.8L1751.2,507.5L1769.2,505.8L1772.5,505.2L1786.5,505.2L1792.5,509.2L1796.8,510.2L1800.5,505.2L1806.8,503.8L1808.2,495.8L1805.5,488.2L1808.2,481.5L1808.2,473.5L1797.8,473.5L1787.8,474.8L1773.5,474.8L1764.5,470.5L1760.2,467.2L1747.5,473.5L1751.2,479.8L1749.8,486.2L1744.2,491.8Z"/>
<rect x="1411.7" y="144.4" width="731.0" height="682.0" fill="none" stroke="#7c7c7c" stroke-width="3.7"/>
<line x1="1425.8" y1="826.4" x2="1425.8" y2="834.8" stroke="#8c8c8c" stroke-width="3.0"/>
<text x="1425.8" y="880.2" font-size="51.7" text-anchor="middle" stroke="#fff" stroke-width="0.1" stroke-linejoin="round">−12</text>
<line x1="1403.3" y1="813.4" x2="1411.7" y2="813.4" stroke="#8c8c8c" stroke-width="3.0"/>
<text x="1396.8" y="832.7" font-size="51.7" text-anchor="end" stroke="#fff" stroke-width="0.1" stroke-linejoin="round">−12</text>
<line x1="1542.8" y1="826.4" x2="1542.8" y2="834.8" stroke="#8c8c8c" stroke-width="3.0"/>
<text x="1542.8" y="880.2" font-size="51.7" text-anchor="middle" stroke="#fff" stroke-width="0.1" stroke-linejoin="round">−8</text>
<line x1="1403.3" y1="704.0" x2="1411.7" y2="704.0" stroke="#8c8c8c" stroke-width="3.0"/>
<text x="1396.8" y="723.3" font-size="51.7" text-anchor="end" stroke="#fff" stroke-width="0.1" stroke-linejoin="round">−8</text>
<line x1="1659.9" y1="826.4" x2="1659.9" y2="834.8" stroke="#8c8c8c" stroke-width="3.0"/>
<text x="1659.9" y="880.2" font-size="51.7" text-anchor="middle" stroke="#fff" stroke-width="0.1" stroke-linejoin="round">−4</text>
<line x1="1403.3" y1="594.7" x2="1411.7" y2="594.7" stroke="#8c8c8c" stroke-width="3.0"/>
<text x="1396.8" y="614.0" font-size="51.7" text-anchor="end" stroke="#fff" stroke-width="0.1" stroke-linejoin="round">−4</text>
<line x1="1777.0" y1="826.4" x2="1777.0" y2="834.8" stroke="#8c8c8c" stroke-width="3.0"/>
<text x="1777.0" y="880.2" font-size="51.7" text-anchor="middle" stroke="#fff" stroke-width="0.1" stroke-linejoin="round">0</text>
<line x1="1403.3" y1="485.4" x2="1411.7" y2="485.4" stroke="#8c8c8c" stroke-width="3.0"/>
<text x="1396.8" y="504.7" font-size="51.7" text-anchor="end" stroke="#fff" stroke-width="0.1" stroke-linejoin="round">0</text>
<line x1="1894.1" y1="826.4" x2="1894.1" y2="834.8" stroke="#8c8c8c" stroke-width="3.0"/>
<text x="1894.1" y="880.2" font-size="51.7" text-anchor="middle" stroke="#fff" stroke-width="0.1" stroke-linejoin="round">4</text>
<line x1="1403.3" y1="376.1" x2="1411.7" y2="376.1" stroke="#8c8c8c" stroke-width="3.0"/>
<text x="1396.8" y="395.4" font-size="51.7" text-anchor="end" stroke="#fff" stroke-width="0.1" stroke-linejoin="round">4</text>
<line x1="2011.2" y1="826.4" x2="2011.2" y2="834.8" stroke="#8c8c8c" stroke-width="3.0"/>
<text x="2011.2" y="880.2" font-size="51.7" text-anchor="middle" stroke="#fff" stroke-width="0.1" stroke-linejoin="round">8</text>
<line x1="1403.3" y1="266.8" x2="1411.7" y2="266.8" stroke="#8c8c8c" stroke-width="3.0"/>
<text x="1396.8" y="286.1" font-size="51.7" text-anchor="end" stroke="#fff" stroke-width="0.1" stroke-linejoin="round">8</text>
<line x1="2128.2" y1="826.4" x2="2128.2" y2="834.8" stroke="#8c8c8c" stroke-width="3.0"/>
<text x="2128.2" y="880.2" font-size="51.7" text-anchor="middle" stroke="#fff" stroke-width="0.1" stroke-linejoin="round">12</text>
<line x1="1403.3" y1="157.4" x2="1411.7" y2="157.4" stroke="#8c8c8c" stroke-width="3.0"/>
<text x="1396.8" y="176.7" font-size="51.7" text-anchor="end" stroke="#fff" stroke-width="0.1" stroke-linejoin="round">12</text>
<text x="1776.5" y="947.0" font-size="62" text-anchor="middle" stroke="#fff" stroke-width="0.1" stroke-linejoin="round">Eigenvetor 1</text>
<text transform="translate(1268.2,485.3) rotate(-90)" font-size="62" text-anchor="middle" stroke="#fff" stroke-width="0.1" stroke-linejoin="round">Eigenvetor 2</text>
<rect x="2188.3" y="144.30" width="34.6" height="45.98" fill="#ffffff"/>
<rect x="2188.3" y="189.78" width="34.6" height="45.98" fill="#d30000"/>
<rect x="2188.3" y="235.26" width="34.6" height="45.98" fill="#f90000"/>
<rect x="2188.3" y="280.74" width="34.6" height="45.98" fill="#ffa500"/>
<rect x="2188.3" y="326.22" width="34.6" height="45.98" fill="#f3e500"/>
<rect x="2188.3" y="371.70" width="34.6" height="45.98" fill="#a1ff00"/>
<rect x="2188.3" y="417.18" width="34.6" height="45.98" fill="#00ec00"/>
<rect x="2188.3" y="462.66" width="34.6" height="45.98" fill="#00bc00"/>
<rect x="2188.3" y="508.14" width="34.6" height="45.98" fill="#00a13d"/>
<rect x="2188.3" y="553.62" width="34.6" height="45.98" fill="#00aaa5"/>
<rect x="2188.3" y="599.10" width="34.6" height="45.98" fill="#0090dd"/>
<rect x="2188.3" y="644.58" width="34.6" height="45.98" fill="#001cdd"/>
<rect x="2188.3" y="690.06" width="34.6" height="45.98" fill="#1800a7"/>
<rect x="2188.3" y="735.54" width="34.6" height="45.98" fill="#7e008f"/>
<rect x="2188.3" y="781.02" width="34.6" height="45.98" fill="#000000"/>
<rect x="2188.3" y="144.3" width="34.6" height="682.2" fill="none" stroke="#4d4d4d" stroke-opacity="0.85" stroke-width="2.2"/>
<line x1="2222.9" y1="144.3" x2="2229.9" y2="144.3" stroke="#666" stroke-width="2"/>
<text x="2236.2" y="151.7" font-size="20.3" fill="#222">0</text>
<line x1="2222.9" y1="189.8" x2="2229.9" y2="189.8" stroke="#666" stroke-width="2"/>
<text x="2236.2" y="197.2" font-size="20.3" fill="#222">−1</text>
<line x1="2222.9" y1="235.3" x2="2229.9" y2="235.3" stroke="#666" stroke-width="2"/>
<text x="2236.2" y="242.7" font-size="20.3" fill="#222">−2</text>
<line x1="2222.9" y1="280.7" x2="2229.9" y2="280.7" stroke="#666" stroke-width="2"/>
<text x="2236.2" y="288.1" font-size="20.3" fill="#222">−3</text>
<line x1="2222.9" y1="326.2" x2="2229.9" y2="326.2" stroke="#666" stroke-width="2"/>
<text x="2236.2" y="333.6" font-size="20.3" fill="#222">−4</text>
<line x1="2222.9" y1="371.7" x2="2229.9" y2="371.7" stroke="#666" stroke-width="2"/>
<text x="2236.2" y="379.1" font-size="20.3" fill="#222">−5</text>
<line x1="2222.9" y1="417.2" x2="2229.9" y2="417.2" stroke="#666" stroke-width="2"/>
<text x="2236.2" y="424.6" font-size="20.3" fill="#222">−6</text>
<line x1="2222.9" y1="462.7" x2="2229.9" y2="462.7" stroke="#666" stroke-width="2"/>
<text x="2236.2" y="470.1" font-size="20.3" fill="#222">−7</text>
<line x1="2222.9" y1="508.1" x2="2229.9" y2="508.1" stroke="#666" stroke-width="2"/>
<text x="2236.2" y="515.5" font-size="20.3" fill="#222">−8</text>
<line x1="2222.9" y1="553.6" x2="2229.9" y2="553.6" stroke="#666" stroke-width="2"/>
<text x="2236.2" y="561.0" font-size="20.3" fill="#222">−9</text>
<line x1="2222.9" y1="599.1" x2="2229.9" y2="599.1" stroke="#666" stroke-width="2"/>
<text x="2236.2" y="606.5" font-size="20.3" fill="#222">−10</text>
<line x1="2222.9" y1="644.6" x2="2229.9" y2="644.6" stroke="#666" stroke-width="2"/>
<text x="2236.2" y="652.0" font-size="20.3" fill="#222">−11</text>
<line x1="2222.9" y1="690.1" x2="2229.9" y2="690.1" stroke="#666" stroke-width="2"/>
<text x="2236.2" y="697.5" font-size="20.3" fill="#222">−12</text>
<line x1="2222.9" y1="735.5" x2="2229.9" y2="735.5" stroke="#666" stroke-width="2"/>
<text x="2236.2" y="742.9" font-size="20.3" fill="#222">−13</text>
<line x1="2222.9" y1="781.0" x2="2229.9" y2="781.0" stroke="#666" stroke-width="2"/>
<text x="2236.2" y="788.4" font-size="20.3" fill="#222">−14</text>
<line x1="2222.9" y1="826.5" x2="2229.9" y2="826.5" stroke="#666" stroke-width="2"/>
<text x="2236.2" y="833.9" font-size="20.3" fill="#222">−15</text>
<text transform="translate(2334.6,484.7) rotate(-90)" font-size="61.65" text-anchor="middle" stroke="#fff" stroke-width="0.1" stroke-linejoin="round">Free energy (kJ/mol)</text>
</g>
</g>
</svg>
</body>
</html>
